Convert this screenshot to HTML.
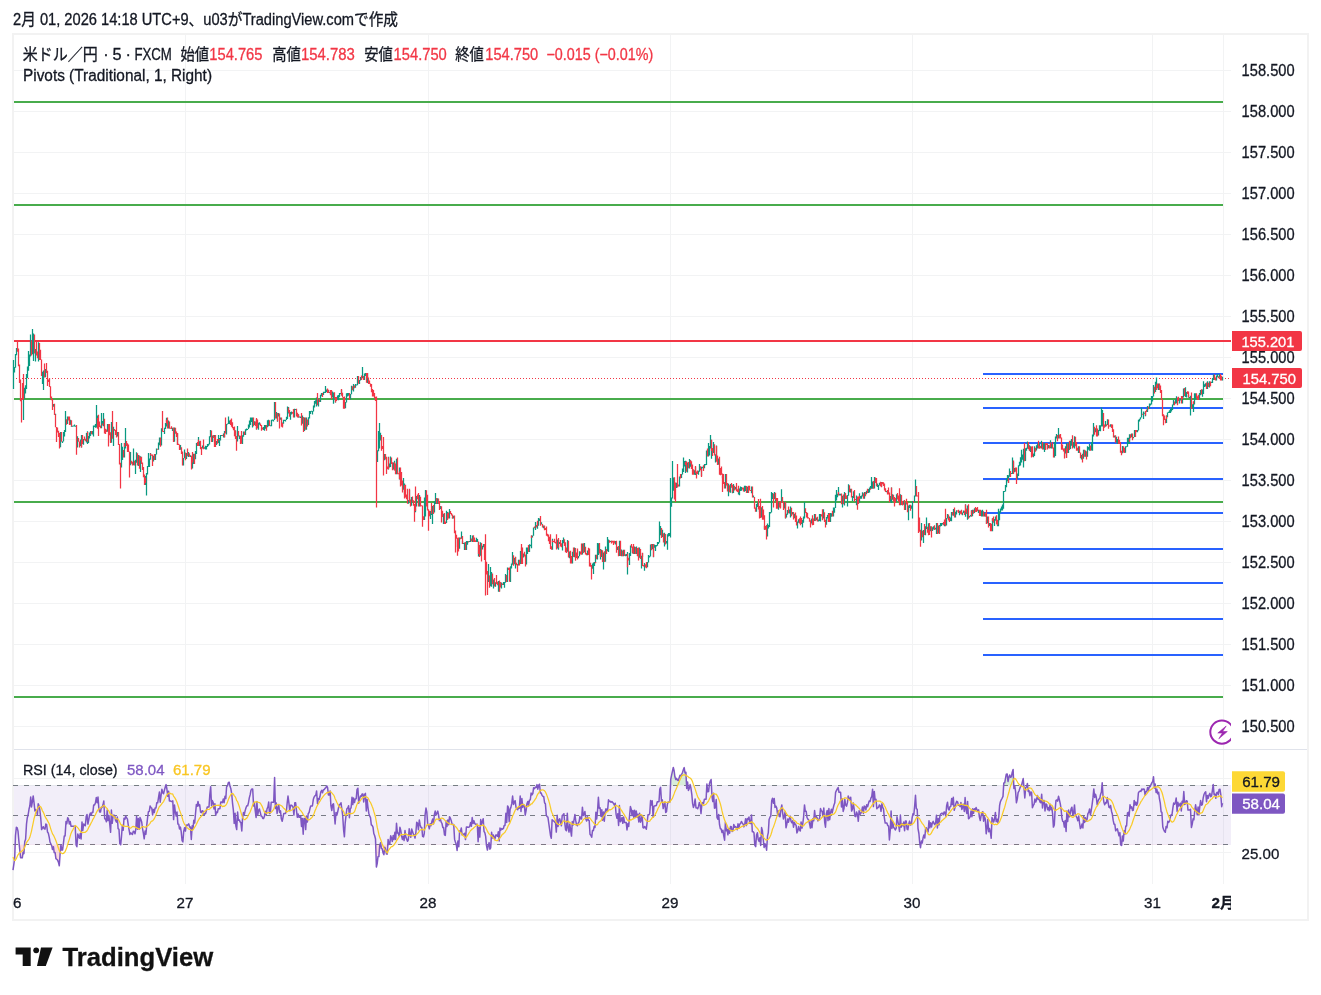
<!DOCTYPE html><html><head><meta charset="utf-8"><style>
html,body{margin:0;padding:0;background:#fff;width:1321px;height:995px;overflow:hidden}
svg{display:block}
text{font-family:"Liberation Sans", "Noto Sans CJK JP", sans-serif;stroke-width:0.3px;paint-order:stroke}
</style></head><body>
<svg width="1321" height="995" viewBox="0 0 1321 995">
<rect width="1321" height="995" fill="#fff"/>

<text x="13" y="25" font-size="16" fill="#131722" stroke="#131722" textLength="385" lengthAdjust="spacingAndGlyphs">2月 01, 2026 14:18 UTC+9、u03がTradingView.comで作成</text>
<rect x="13" y="34" width="1295" height="886" fill="none" stroke="#f2f2f2" stroke-width="2"/>
<line x1="14" x2="1231" y1="70.5" y2="70.5" stroke="#f2f3f4"/>
<line x1="14" x2="1231" y1="111.5" y2="111.5" stroke="#f2f3f4"/>
<line x1="14" x2="1231" y1="152.5" y2="152.5" stroke="#f2f3f4"/>
<line x1="14" x2="1231" y1="193.5" y2="193.5" stroke="#f2f3f4"/>
<line x1="14" x2="1231" y1="234.5" y2="234.5" stroke="#f2f3f4"/>
<line x1="14" x2="1231" y1="275.5" y2="275.5" stroke="#f2f3f4"/>
<line x1="14" x2="1231" y1="316.5" y2="316.5" stroke="#f2f3f4"/>
<line x1="14" x2="1231" y1="357.5" y2="357.5" stroke="#f2f3f4"/>
<line x1="14" x2="1231" y1="398.5" y2="398.5" stroke="#f2f3f4"/>
<line x1="14" x2="1231" y1="439.5" y2="439.5" stroke="#f2f3f4"/>
<line x1="14" x2="1231" y1="480.5" y2="480.5" stroke="#f2f3f4"/>
<line x1="14" x2="1231" y1="521.5" y2="521.5" stroke="#f2f3f4"/>
<line x1="14" x2="1231" y1="562.5" y2="562.5" stroke="#f2f3f4"/>
<line x1="14" x2="1231" y1="603.5" y2="603.5" stroke="#f2f3f4"/>
<line x1="14" x2="1231" y1="644.5" y2="644.5" stroke="#f2f3f4"/>
<line x1="14" x2="1231" y1="685.5" y2="685.5" stroke="#f2f3f4"/>
<line x1="14" x2="1231" y1="726.5" y2="726.5" stroke="#f2f3f4"/>
<line x1="185.5" x2="185.5" y1="35" y2="749" stroke="#f2f3f4"/>
<line x1="185.5" x2="185.5" y1="750" y2="884" stroke="#f2f3f4"/>
<line x1="428.5" x2="428.5" y1="35" y2="749" stroke="#f2f3f4"/>
<line x1="428.5" x2="428.5" y1="750" y2="884" stroke="#f2f3f4"/>
<line x1="670.5" x2="670.5" y1="35" y2="749" stroke="#f2f3f4"/>
<line x1="670.5" x2="670.5" y1="750" y2="884" stroke="#f2f3f4"/>
<line x1="912.5" x2="912.5" y1="35" y2="749" stroke="#f2f3f4"/>
<line x1="912.5" x2="912.5" y1="750" y2="884" stroke="#f2f3f4"/>
<line x1="1152.5" x2="1152.5" y1="35" y2="749" stroke="#f2f3f4"/>
<line x1="1152.5" x2="1152.5" y1="750" y2="884" stroke="#f2f3f4"/>
<line x1="1223.5" x2="1223.5" y1="35" y2="749" stroke="#f2f3f4"/>
<line x1="1223.5" x2="1223.5" y1="750" y2="884" stroke="#f2f3f4"/>
<line x1="14" x2="1231" y1="778.5" y2="778.5" stroke="#f2f3f4"/>
<line x1="14" x2="1231" y1="852.5" y2="852.5" stroke="#f2f3f4"/>
<line x1="14" x2="1307" y1="749.5" y2="749.5" stroke="#e0e3eb"/>
<text x="1294.6" y="75.8" font-size="16.2" fill="#131722" stroke="#131722" text-anchor="end" textLength="53" lengthAdjust="spacingAndGlyphs">158.500</text>
<text x="1294.6" y="116.8" font-size="16.2" fill="#131722" stroke="#131722" text-anchor="end" textLength="53" lengthAdjust="spacingAndGlyphs">158.000</text>
<text x="1294.6" y="157.8" font-size="16.2" fill="#131722" stroke="#131722" text-anchor="end" textLength="53" lengthAdjust="spacingAndGlyphs">157.500</text>
<text x="1294.6" y="198.8" font-size="16.2" fill="#131722" stroke="#131722" text-anchor="end" textLength="53" lengthAdjust="spacingAndGlyphs">157.000</text>
<text x="1294.6" y="239.8" font-size="16.2" fill="#131722" stroke="#131722" text-anchor="end" textLength="53" lengthAdjust="spacingAndGlyphs">156.500</text>
<text x="1294.6" y="280.8" font-size="16.2" fill="#131722" stroke="#131722" text-anchor="end" textLength="53" lengthAdjust="spacingAndGlyphs">156.000</text>
<text x="1294.6" y="321.8" font-size="16.2" fill="#131722" stroke="#131722" text-anchor="end" textLength="53" lengthAdjust="spacingAndGlyphs">155.500</text>
<text x="1294.6" y="362.8" font-size="16.2" fill="#131722" stroke="#131722" text-anchor="end" textLength="53" lengthAdjust="spacingAndGlyphs">155.000</text>
<text x="1294.6" y="403.8" font-size="16.2" fill="#131722" stroke="#131722" text-anchor="end" textLength="53" lengthAdjust="spacingAndGlyphs">154.500</text>
<text x="1294.6" y="444.8" font-size="16.2" fill="#131722" stroke="#131722" text-anchor="end" textLength="53" lengthAdjust="spacingAndGlyphs">154.000</text>
<text x="1294.6" y="485.8" font-size="16.2" fill="#131722" stroke="#131722" text-anchor="end" textLength="53" lengthAdjust="spacingAndGlyphs">153.500</text>
<text x="1294.6" y="526.8" font-size="16.2" fill="#131722" stroke="#131722" text-anchor="end" textLength="53" lengthAdjust="spacingAndGlyphs">153.000</text>
<text x="1294.6" y="567.8" font-size="16.2" fill="#131722" stroke="#131722" text-anchor="end" textLength="53" lengthAdjust="spacingAndGlyphs">152.500</text>
<text x="1294.6" y="608.8" font-size="16.2" fill="#131722" stroke="#131722" text-anchor="end" textLength="53" lengthAdjust="spacingAndGlyphs">152.000</text>
<text x="1294.6" y="649.8" font-size="16.2" fill="#131722" stroke="#131722" text-anchor="end" textLength="53" lengthAdjust="spacingAndGlyphs">151.500</text>
<text x="1294.6" y="690.8" font-size="16.2" fill="#131722" stroke="#131722" text-anchor="end" textLength="53" lengthAdjust="spacingAndGlyphs">151.000</text>
<text x="1294.6" y="731.8" font-size="16.2" fill="#131722" stroke="#131722" text-anchor="end" textLength="53" lengthAdjust="spacingAndGlyphs">150.500</text>
<line x1="14" x2="1223" y1="102" y2="102" stroke="#48ac4c" stroke-width="2"/>
<line x1="14" x2="1223" y1="205" y2="205" stroke="#48ac4c" stroke-width="2"/>
<line x1="14" x2="1223" y1="399" y2="399" stroke="#48ac4c" stroke-width="2"/>
<line x1="14" x2="1223" y1="502" y2="502" stroke="#48ac4c" stroke-width="2"/>
<line x1="14" x2="1223" y1="697" y2="697" stroke="#48ac4c" stroke-width="2"/>
<line x1="983" x2="1223" y1="374" y2="374" stroke="#2962ff" stroke-width="2"/>
<line x1="983" x2="1223" y1="408" y2="408" stroke="#2962ff" stroke-width="2"/>
<line x1="983" x2="1223" y1="443" y2="443" stroke="#2962ff" stroke-width="2"/>
<line x1="983" x2="1223" y1="479" y2="479" stroke="#2962ff" stroke-width="2"/>
<line x1="983" x2="1223" y1="513" y2="513" stroke="#2962ff" stroke-width="2"/>
<line x1="983" x2="1223" y1="549" y2="549" stroke="#2962ff" stroke-width="2"/>
<line x1="983" x2="1223" y1="583" y2="583" stroke="#2962ff" stroke-width="2"/>
<line x1="983" x2="1223" y1="619" y2="619" stroke="#2962ff" stroke-width="2"/>
<line x1="983" x2="1223" y1="655" y2="655" stroke="#2962ff" stroke-width="2"/>
<line x1="14" x2="1231" y1="341" y2="341" stroke="#f23645" stroke-width="2"/>
<line x1="13" x2="1231" y1="378.5" y2="378.5" stroke="#f23645" stroke-width="1" stroke-dasharray="1 2"/>
<path d="M13.5 372.8V375.2M13.5 360.0V389.0M14.5 367.1V372.5M15.5 354.0V367.7M16.5 348.0V355.3M23.5 394.3V420.0M24.5 387.7V398.8M25.5 385.3V393.6M26.5 374.0V389.1M27.5 366.5V378.0M28.5 364.4V370.8M28.5 351.0V367.7M29.5 354.6V366.0M30.5 334.5V356.4M32.5 329.0V354.2M33.5 333.5V361.0M35.5 349.0V361.6M38.5 342.2V361.6M42.5 371.7V384.0M43.5 370.5V390.0M45.5 369.0V377.3M53.5 404.0V406.7M55.5 413.8V415.0M60.5 437.4V447.3M60.5 432.0V440.6M62.5 441.2V443.0M63.5 432.0V441.6M64.5 430.0V436.6M65.5 411.0V432.0M65.5 420.1V432.0M67.5 416.5V423.9M70.5 419.8V424.7M71.5 425.7V426.7M72.5 425.7V426.7M73.5 425.5V426.5M74.5 424.4V426.5M75.5 425.7V426.7M77.5 436.2V447.5M80.5 439.4V446.0M81.5 435.0V447.5M83.5 439.1V444.8M86.5 433.1V442.5M87.5 431.3V444.0M88.5 435.9V443.0M89.5 432.4V438.5M90.5 431.0V436.1M92.5 431.0V434.6M92.5 430.9V431.9M93.5 425.4V436.4M94.5 425.4V426.9M95.5 423.9V427.8M96.5 405.0V427.5M97.5 415.4V425.4M101.5 413.0V428.2M102.5 420.9V424.0M103.5 413.0V426.2M107.5 424.0V431.8M108.5 427.0V431.7M111.5 421.9V442.8M113.5 426.8V438.6M113.5 428.8V446.0M117.5 432.1V436.4M121.5 443.0V467.6M122.5 446.7V460.1M124.5 443.0V457.5M125.5 428.0V448.4M130.5 452.0V465.2M133.5 448.6V465.2M135.5 459.8V474.0M136.5 452.3V462.8M138.5 455.0V466.0M140.5 456.3V472.0M145.5 476.1V485.0M146.5 473.0V495.6M147.5 466.1V474.6M148.5 453.0V467.0M149.5 458.6V467.0M150.5 453.0V459.7M153.5 455.8V461.6M155.5 454.0V460.0M155.5 454.2V455.2M156.5 448.5V454.4M158.5 442.6V449.7M159.5 437.5V445.2M161.5 437.5V445.6M161.5 428.2V437.9M164.5 427.8V434.0M165.5 423.0V428.9M166.5 417.8V426.4M168.5 420.6V428.5M171.5 428.0V429.0M172.5 427.8V430.9M174.5 427.5V441.8M177.5 433.3V445.0M180.5 445.0V449.8M183.5 457.9V465.6M184.5 449.6V458.2M186.5 453.1V459.0M187.5 454.1V456.0M188.5 452.0V457.0M190.5 455.3V457.0M192.5 457.2V468.4M193.5 453.8V464.0M195.5 451.1V459.2M196.5 443.0V454.0M198.5 437.0V446.0M199.5 441.3V446.0M202.5 445.6V448.5M204.5 447.2V448.8M205.5 445.8V449.6M206.5 446.0V449.6M207.5 444.0V446.9M208.5 443.7V444.7M208.5 444.0V445.7M209.5 436.3V444.4M210.5 430.0V437.3M212.5 435.5V442.0M214.5 435.0V441.3M216.5 441.1V444.9M218.5 435.0V443.1M219.5 438.0V446.0M220.5 435.0V440.4M221.5 435.0V436.0M223.5 433.4V437.4M224.5 430.9V437.3M226.5 424.1V434.6M227.5 423.5V424.5M228.5 416.4V424.0M229.5 420.6V424.0M235.5 430.5V436.3M237.5 426.0V441.6M239.5 435.5V438.9M242.5 435.2V444.0M243.5 431.6V436.8M245.5 429.3V435.0M245.5 429.6V433.3M246.5 428.6V430.4M247.5 429.0V430.1M248.5 424.5V429.0M249.5 420.5V427.5M250.5 417.5V425.0M251.5 418.0V422.0M251.5 417.5V420.5M252.5 417.5V427.5M254.5 421.3V425.0M256.5 418.9V429.6M258.5 422.7V429.7M259.5 422.3V424.8M263.5 426.9V429.9M264.5 425.0V430.8M265.5 425.0V428.7M267.5 423.8V427.2M267.5 420.3V424.6M268.5 419.8V426.3M270.5 425.2V426.3M271.5 419.7V426.3M272.5 419.7V420.8M272.5 419.6V420.6M273.5 419.7V421.4M274.5 402.1V420.1M276.5 412.0V418.6M277.5 413.0V421.8M278.5 413.0V416.6M280.5 417.5V419.8M282.5 422.5V426.3M283.5 419.7V423.8M284.5 419.7V421.1M285.5 419.7V421.6M286.5 416.7V420.1M287.5 406.4V419.0M288.5 406.9V413.4M290.5 412.0V419.7M291.5 411.6V414.6M294.5 408.7V417.5M295.5 408.9V409.9M298.5 414.2V417.5M299.5 416.6V417.6M300.5 416.5V418.0M302.5 415.6V423.7M304.5 419.2V431.1M304.5 417.5V421.8M306.5 417.5V429.7M308.5 417.3V424.9M309.5 416.6V418.6M309.5 411.1V418.6M310.5 411.0V413.9M311.5 410.8V411.8M312.5 411.0V414.6M313.5 405.5V411.4M314.5 403.7V407.5M314.5 401.0V404.9M315.5 400.3V403.7M316.5 397.6V406.4M318.5 399.3V406.4M320.5 396.9V402.0M320.5 394.7V400.1M321.5 393.0V396.2M323.5 391.7V395.1M324.5 391.7V393.0M325.5 386.0V392.9M325.5 389.1V393.0M326.5 389.4V391.9M329.5 392.1V393.1M330.5 390.3V394.2M332.5 391.6V397.4M333.5 392.4V403.7M335.5 397.1V402.4M337.5 395.6V399.6M338.5 394.9V400.2M339.5 393.0V397.2M340.5 393.0V394.0M341.5 389.7V395.6M345.5 402.0V408.3M346.5 396.6V402.5M346.5 393.2V401.0M347.5 393.0V396.4M348.5 393.0V395.8M350.5 393.9V399.5M351.5 391.4V394.2M351.5 385.8V394.0M353.5 384.0V391.6M355.5 384.1V387.7M356.5 384.5V385.5M357.5 376.2V385.3M357.5 376.0V379.0M359.5 380.1V384.0M360.5 376.9V380.6M362.5 373.5V378.3M362.5 367.0V377.8M364.5 373.5V380.0M365.5 373.0V375.9M367.5 373.0V383.0M377.5 450.3V462.0M378.5 431.0V451.2M378.5 445.2V446.3M379.5 423.0V448.4M380.5 432.7V440.4M384.5 454.0V460.3M388.5 456.7V469.4M389.5 463.6V467.5M390.5 456.6V467.1M393.5 462.6V469.5M394.5 460.7V470.3M396.5 458.7V474.3M399.5 467.6V479.6M403.5 478.0V489.8M404.5 483.6V494.6M408.5 500.0V503.8M409.5 490.0V502.2M411.5 496.9V505.7M415.5 505.5V512.3M416.5 496.1V506.4M419.5 495.1V506.4M424.5 497.5V520.1M425.5 497.5V516.5M425.5 490.0V500.8M430.5 511.0V518.9M431.5 509.1V515.0M432.5 506.0V524.0M434.5 501.4V512.6M435.5 493.0V504.0M436.5 501.7V504.0M437.5 498.3V504.0M440.5 506.1V509.1M443.5 513.7V524.0M446.5 510.8V523.0M447.5 512.1V518.5M449.5 509.0V518.5M452.5 517.3V518.5M453.5 515.7V518.5M457.5 539.3V546.9M459.5 537.6V548.8M461.5 531.5V538.8M462.5 541.0V544.0M463.5 542.9V543.9M464.5 542.6V550.0M466.5 541.0V549.9M467.5 541.0V544.8M468.5 541.2V542.2M469.5 541.0V542.0M470.5 535.0V542.0M472.5 535.4V542.0M473.5 537.7V541.9M476.5 537.8V542.0M477.5 538.9V542.0M478.5 542.0V556.5M480.5 542.2V555.7M482.5 545.7V549.6M483.5 544.0V547.3M488.5 564.0V581.9M489.5 575.7V577.9M490.5 567.0V586.2M491.5 571.9V586.7M493.5 579.6V588.5M495.5 582.3V586.8M498.5 581.1V591.8M499.5 582.0V591.4M501.5 582.4V588.5M503.5 582.0V584.9M504.5 582.0V587.7M505.5 581.8V582.8M505.5 574.1V582.4M507.5 567.5V582.0M510.5 570.3V582.0M510.5 566.3V570.3M511.5 563.5V568.6M512.5 552.0V564.8M514.5 558.0V564.2M515.5 556.8V568.6M518.5 559.7V565.6M520.5 550.9V564.0M521.5 547.6V564.0M523.5 553.5V557.6M526.5 557.8V564.4M526.5 547.6V560.3M527.5 547.6V554.0M529.5 544.3V552.0M530.5 544.7V546.2M531.5 535.4V548.2M532.5 535.5V537.4M533.5 527.5V535.8M535.5 522.0V529.9M537.5 522.3V528.8M538.5 518.0V525.8M539.5 518.4V521.1M541.5 522.2V524.4M543.5 525.4V528.3M552.5 538.8V549.8M557.5 539.4V548.6M558.5 541.5V549.8M559.5 541.9V544.0M562.5 540.0V550.4M563.5 540.1V542.6M563.5 537.6V543.3M567.5 539.9V551.8M569.5 551.4V558.2M572.5 551.8V563.6M574.5 551.8V557.2M574.5 547.6V553.2M578.5 555.9V558.3M579.5 554.5V556.3M579.5 551.2V556.3M582.5 543.6V554.5M584.5 549.1V552.2M584.5 543.0V550.7M587.5 550.5V555.2M592.5 563.6V568.8M593.5 562.5V574.0M594.5 562.0V566.0M595.5 554.7V563.1M597.5 543.0V559.6M598.5 543.3V555.0M600.5 549.1V559.6M601.5 549.8V556.9M603.5 552.5V569.6M605.5 546.4V561.7M605.5 547.7V554.8M607.5 537.0V551.2M608.5 539.5V552.0M610.5 541.0V542.1M611.5 540.8V542.6M615.5 541.0V544.5M617.5 546.7V550.0M619.5 540.8V555.9M621.5 552.9V555.2M621.5 549.4V556.3M623.5 549.7V556.3M625.5 554.2V556.3M626.5 554.0V555.9M627.5 552.0V574.5M629.5 553.1V565.0M630.5 545.4V555.9M632.5 547.8V553.5M634.5 546.5V554.0M636.5 546.5V554.0M637.5 549.7V556.2M639.5 547.5V557.7M641.5 555.7V568.5M642.5 553.0V556.9M644.5 563.1V570.7M647.5 562.0V567.3M648.5 556.3V562.4M648.5 555.1V557.4M649.5 555.7V557.4M650.5 544.4V556.4M652.5 544.0V549.3M653.5 546.4V557.3M654.5 544.4V547.8M655.5 545.1V551.0M656.5 545.0V546.5M657.5 542.0V545.8M658.5 542.0V543.9M658.5 541.9V542.9M659.5 521.5V542.4M660.5 526.1V535.3M662.5 529.8V537.1M664.5 536.2V546.4M664.5 532.8V539.7M666.5 541.0V543.5M667.5 534.3V549.7M668.5 533.0V536.6M669.5 533.0V535.9M669.5 533.2V535.8M670.5 478.0V537.5M671.5 497.5V506.7M672.5 461.0V498.6M673.5 477.4V490.8M676.5 482.8V488.1M679.5 480.2V486.4M679.5 476.6V483.6M681.5 474.0V477.9M682.5 468.5V474.4M683.5 457.6V472.1M684.5 461.1V466.5M685.5 460.7V473.0M687.5 462.6V472.6M689.5 459.0V468.4M690.5 460.3V466.7M694.5 470.3V474.7M695.5 466.7V475.1M698.5 470.8V474.7M699.5 464.0V471.8M701.5 466.8V476.1M702.5 466.7V468.3M704.5 464.0V468.3M705.5 464.0V465.2M706.5 464.0V465.1M706.5 450.5V464.4M708.5 443.0V456.5M709.5 446.1V455.4M710.5 435.0V448.4M711.5 439.7V458.7M713.5 442.0V453.1M715.5 454.3V462.6M716.5 445.6V455.0M718.5 458.6V464.8M722.5 475.8V478.3M725.5 474.0V488.6M727.5 483.0V486.5M728.5 483.7V496.3M730.5 484.1V492.7M732.5 490.6V493.2M733.5 484.1V493.1M735.5 486.9V489.4M738.5 487.7V494.6M739.5 488.5V495.2M740.5 486.6V490.9M741.5 487.0V490.8M744.5 485.8V491.7M745.5 485.8V491.1M747.5 486.7V493.0M748.5 486.2V489.4M751.5 486.4V493.3M753.5 495.5V497.4M756.5 503.9V511.8M757.5 502.3V507.0M759.5 508.9V512.1M761.5 507.2V517.5M764.5 525.8V529.7M767.5 523.5V536.4M768.5 525.1V528.6M769.5 515.2V527.1M769.5 512.0V519.1M770.5 512.0V513.4M771.5 492.0V512.4M772.5 493.0V498.9M774.5 492.0V499.1M775.5 497.7V501.1M778.5 502.3V509.8M780.5 501.0V507.6M781.5 489.3V501.8M784.5 502.0V508.6M785.5 502.0V518.6M786.5 513.7V517.5M787.5 509.9V514.7M789.5 509.4V513.6M790.5 506.4V517.5M792.5 512.0V514.5M794.5 513.7V518.3M797.5 521.6V528.6M798.5 519.2V522.7M801.5 518.3V524.1M802.5 520.0V527.5M803.5 516.4V522.7M804.5 502.0V518.6M806.5 512.0V513.7M811.5 518.8V523.5M812.5 518.0V524.9M814.5 514.0V521.1M816.5 517.4V520.2M818.5 519.4V521.4M819.5 514.0V521.0M820.5 514.0V521.4M823.5 509.3V518.6M826.5 517.1V524.8M827.5 515.0V518.6M828.5 513.0V522.0M830.5 513.0V522.0M831.5 513.3V516.7M833.5 511.1V516.4M833.5 507.5V512.8M834.5 507.5V512.7M835.5 494.8V507.9M836.5 490.0V500.5M837.5 493.7V497.2M838.5 487.0V494.4M839.5 493.7V495.4M840.5 493.8V495.4M842.5 495.8V507.5M844.5 497.6V505.4M844.5 492.0V502.4M847.5 495.1V506.4M848.5 484.3V495.8M850.5 488.8V492.4M852.5 495.9V501.0M853.5 491.2V497.9M856.5 495.6V505.3M859.5 493.2V502.5M860.5 496.1V498.7M861.5 495.5V498.7M862.5 492.2V496.5M864.5 492.0V498.7M866.5 490.8V494.3M868.5 488.9V493.0M869.5 487.6V492.5M870.5 486.1V489.0M871.5 477.0V488.8M872.5 481.4V488.8M874.5 477.1V488.4M875.5 481.1V482.5M877.5 483.5V486.9M878.5 485.0V490.0M879.5 482.8V485.6M881.5 482.1V486.9M886.5 491.1V492.1M886.5 491.2V492.2M890.5 496.1V501.9M891.5 487.6V503.0M892.5 494.3V499.7M896.5 494.3V501.8M896.5 494.3V501.5M900.5 494.3V505.3M902.5 502.2V505.3M903.5 500.8V504.8M905.5 502.7V509.9M908.5 505.6V520.3M909.5 504.8V508.0M911.5 505.6V508.8M912.5 501.0V518.6M912.5 501.0V505.6M914.5 495.5V502.1M915.5 479.4V496.5M921.5 523.0V540.4M923.5 531.8V543.0M923.5 530.0V533.1M925.5 526.2V535.2M926.5 517.5V529.0M928.5 523.3V532.2M930.5 526.3V531.2M932.5 527.3V531.1M933.5 526.3V529.5M935.5 527.7V529.6M936.5 523.0V534.0M938.5 525.5V533.6M939.5 525.1V533.1M940.5 523.0V526.5M941.5 523.0V525.9M942.5 523.0V524.6M944.5 522.1V526.3M946.5 518.0V525.5M947.5 513.9V518.6M949.5 516.5V520.3M950.5 517.5V521.0M951.5 512.0V521.2M953.5 509.1V515.7M955.5 515.0V517.5M955.5 511.8V517.5M956.5 510.2V514.4M959.5 510.8V515.3M960.5 510.7V513.2M962.5 512.6V515.3M963.5 510.4V513.1M965.5 504.2V516.8M967.5 505.4V519.7M969.5 515.9V517.5M970.5 515.0V516.4M971.5 510.3V516.4M972.5 509.8V516.2M974.5 508.2V513.0M976.5 509.0V512.0M978.5 509.8V512.9M981.5 511.6V516.4M981.5 510.4V514.6M982.5 509.8V516.4M984.5 512.5V516.4M986.5 520.3V524.0M987.5 516.4V523.2M989.5 522.9V526.0M992.5 518.3V531.3M994.5 519.0V526.0M995.5 516.4V520.7M997.5 520.2V526.3M998.5 508.7V526.3M999.5 511.2V520.3M1000.5 508.5V513.0M1001.5 506.4V510.5M1002.5 506.4V510.6M1002.5 504.5V508.6M1003.5 491.0V508.7M1004.5 491.0V492.0M1005.5 485.0V491.4M1006.5 478.2V487.3M1007.5 475.0V481.3M1008.5 475.3V483.0M1009.5 468.5V476.8M1011.5 473.0V474.1M1012.5 457.4V474.0M1013.5 461.7V468.6M1014.5 467.9V472.2M1017.5 473.4V479.0M1018.5 466.0V476.0M1018.5 465.2V467.7M1019.5 461.7V466.3M1020.5 457.3V465.5M1021.5 449.7V462.5M1022.5 454.6V459.8M1023.5 448.7V467.4M1025.5 448.2V461.0M1026.5 447.8V450.7M1027.5 441.4V448.8M1029.5 445.2V450.8M1030.5 446.3V451.9M1033.5 453.6V457.3M1034.5 450.2V455.9M1034.5 446.3V455.8M1036.5 445.3V450.4M1037.5 443.4V448.6M1039.5 443.0V448.5M1041.5 440.8V448.6M1043.5 443.3V449.5M1044.5 443.0V452.0M1045.5 443.0V449.6M1048.5 445.0V448.2M1050.5 440.3V448.3M1051.5 443.8V448.6M1054.5 442.0V457.4M1055.5 446.0V456.0M1055.5 436.5V448.6M1056.5 434.0V438.4M1058.5 428.0V438.6M1065.5 446.3V453.5M1066.5 443.1V457.7M1068.5 442.4V453.0M1070.5 440.8V449.1M1071.5 440.8V445.8M1071.5 439.0V441.6M1073.5 442.2V447.6M1074.5 436.3V448.6M1078.5 446.3V453.1M1081.5 455.0V459.6M1082.5 453.7V458.5M1083.5 449.7V458.7M1085.5 450.4V456.8M1087.5 451.9V456.8M1087.5 446.3V453.5M1088.5 447.0V449.7M1089.5 443.9V450.8M1091.5 442.0V450.4M1092.5 442.1V450.8M1092.5 434.5V442.4M1093.5 423.0V436.4M1095.5 428.3V432.2M1098.5 431.5V435.6M1098.5 429.9V432.8M1099.5 425.3V431.0M1100.5 425.3V431.3M1101.5 407.6V426.4M1102.5 410.1V426.4M1105.5 421.0V426.7M1107.5 419.3V425.1M1110.5 424.2V426.8M1114.5 435.5V437.4M1116.5 436.8V442.5M1117.5 439.1V444.0M1119.5 442.0V443.6M1122.5 446.1V453.2M1124.5 448.0V453.0M1125.5 446.3V452.7M1126.5 446.3V447.3M1127.5 437.7V446.7M1128.5 437.7V444.0M1129.5 434.2V444.0M1131.5 433.4V437.2M1133.5 437.0V438.2M1134.5 430.0V437.1M1135.5 430.4V433.8M1137.5 430.0V432.3M1138.5 419.7V430.4M1139.5 418.7V421.4M1140.5 417.2V419.4M1140.5 417.2V418.9M1141.5 407.4V417.6M1143.5 411.6V419.0M1144.5 412.7V413.7M1145.5 411.2V416.2M1147.5 406.0V412.0M1149.5 403.6V408.9M1150.5 403.6V405.5M1151.5 399.9V404.4M1151.5 396.0V404.0M1152.5 396.0V401.5M1153.5 385.0V396.4M1155.5 381.8V392.1M1156.5 377.5V390.0M1158.5 383.6V390.0M1166.5 415.5V423.0M1167.5 412.5V417.2M1168.5 411.8V413.0M1169.5 410.3V413.0M1170.5 408.9V413.0M1171.5 407.8V411.6M1172.5 407.8V410.0M1172.5 404.4V408.2M1173.5 400.0V405.3M1175.5 399.3V403.8M1176.5 396.3V403.2M1177.5 397.9V404.3M1179.5 399.4V403.6M1180.5 398.4V400.4M1182.5 396.0V403.6M1183.5 388.5V397.6M1185.5 387.3V396.9M1186.5 392.1V397.6M1188.5 394.8V397.6M1189.5 396.9V397.9M1190.5 395.8V415.5M1192.5 404.2V408.2M1193.5 401.8V412.0M1194.5 393.3V404.4M1195.5 393.3V399.6M1198.5 395.0V400.0M1199.5 392.9V400.0M1200.5 390.0V395.3M1202.5 389.4V396.7M1203.5 385.2V393.9M1203.5 381.3V388.4M1204.5 384.2V387.0M1205.5 383.2V386.5M1207.5 381.3V389.0M1209.5 381.3V387.4M1209.5 381.5V384.4M1211.5 381.7V383.0M1212.5 377.9V383.0M1213.5 374.5V380.0M1214.5 377.2V379.7M1216.5 375.5V380.5M1217.5 374.0V377.3M1219.5 374.0V377.7M1219.5 374.0V376.1M1222.5 376.7V380.5" stroke="#089981" stroke-width="1.25" fill="none"/><path d="M17.5 342.0V351.8M18.5 348.5V353.0M18.5 352.5V366.2M19.5 364.6V383.0M20.5 379.4V401.2M21.5 398.3V422.5M22.5 383.0V399.9M23.5 374.0V399.2M31.5 340.6V355.5M34.5 335.5V345.2M34.5 334.5V353.6M36.5 341.7V355.4M37.5 351.6V358.3M39.5 343.1V346.9M39.5 345.0V360.0M40.5 349.7V360.0M41.5 359.6V376.0M44.5 369.9V374.9M44.5 363.4V377.5M46.5 363.0V373.0M47.5 370.8V386.0M48.5 379.4V382.1M49.5 378.0V387.1M50.5 386.2V398.0M50.5 393.3V397.2M51.5 396.6V400.2M52.5 399.0V410.0M54.5 403.7V415.0M55.5 414.6V427.3M56.5 427.1V442.0M57.5 427.4V432.5M58.5 430.7V436.9M59.5 433.0V448.6M61.5 432.0V441.8M66.5 419.3V424.8M68.5 416.5V420.5M69.5 416.5V425.0M71.5 420.2V426.5M76.5 425.0V444.0M76.5 443.5V454.7M78.5 438.1V441.7M79.5 441.6V447.5M81.5 439.9V447.5M82.5 435.0V444.0M84.5 436.4V440.3M85.5 438.7V441.2M87.5 432.1V441.8M91.5 431.0V434.2M97.5 418.1V428.7M98.5 414.7V436.0M99.5 421.4V427.1M100.5 425.5V428.3M102.5 423.5V425.4M104.5 418.8V433.4M105.5 428.7V434.0M106.5 429.6V432.1M108.5 424.0V446.4M109.5 424.0V435.3M110.5 432.3V443.1M112.5 411.0V438.8M114.5 428.9V430.8M115.5 429.9V435.1M116.5 422.0V437.5M118.5 432.1V445.0M118.5 442.0V445.0M119.5 443.9V464.6M120.5 462.8V488.4M123.5 450.1V457.5M124.5 443.0V446.9M126.5 440.9V446.0M127.5 443.3V452.0M128.5 444.6V452.0M129.5 451.6V477.4M129.5 457.5V467.6M131.5 460.7V463.7M132.5 461.7V465.5M134.5 461.9V462.9M134.5 460.8V465.6M137.5 453.3V465.6M139.5 455.4V468.7M140.5 457.4V460.4M141.5 456.7V464.0M142.5 462.4V469.9M143.5 467.0V477.3M144.5 474.5V485.0M145.5 477.7V482.9M150.5 453.4V455.2M151.5 454.6V455.8M152.5 454.5V466.0M154.5 454.0V460.0M157.5 448.7V449.7M160.5 437.5V446.7M162.5 411.0V431.7M163.5 431.0V432.1M166.5 420.0V423.6M167.5 417.6V428.4M169.5 421.6V428.7M170.5 427.8V428.8M171.5 426.3V428.7M173.5 427.5V441.9M175.5 427.8V433.7M176.5 431.6V436.9M177.5 433.0V445.0M178.5 443.7V445.0M179.5 444.6V450.0M181.5 447.3V454.0M182.5 451.6V463.4M182.5 460.5V465.6M185.5 452.6V460.3M187.5 448.5V456.2M189.5 453.3V456.7M191.5 455.8V469.5M192.5 452.0V462.4M194.5 453.8V464.0M197.5 441.9V446.0M198.5 439.7V446.0M200.5 440.8V449.2M201.5 447.1V455.0M203.5 439.6V447.2M203.5 444.6V449.3M211.5 430.6V442.0M213.5 435.0V437.9M214.5 436.7V447.0M215.5 435.0V447.0M217.5 439.0V443.7M219.5 439.0V440.2M222.5 434.9V435.9M224.5 432.9V437.4M225.5 417.5V433.6M230.5 419.7V423.9M230.5 421.8V425.0M231.5 418.6V426.7M232.5 422.3V428.2M233.5 427.1V430.2M234.5 426.4V436.3M235.5 430.4V438.9M236.5 436.1V450.7M238.5 431.0V436.6M240.5 435.8V444.0M240.5 435.7V441.8M241.5 431.0V443.7M244.5 431.6V435.0M253.5 417.5V426.3M255.5 421.4V426.0M256.5 418.0V429.5M257.5 419.4V428.2M260.5 423.6V425.9M261.5 425.0V429.3M261.5 427.3V430.8M262.5 427.4V429.4M266.5 425.0V430.8M269.5 420.3V425.9M275.5 402.0V418.6M277.5 413.0V421.2M279.5 413.6V428.6M281.5 417.6V426.8M282.5 423.1V427.5M288.5 407.6V412.4M289.5 409.9V416.8M292.5 411.9V413.7M293.5 411.5V413.3M293.5 409.1V417.4M296.5 408.7V416.6M297.5 412.7V417.5M298.5 414.4V417.5M301.5 413.0V425.4M303.5 417.1V432.0M305.5 417.5V429.7M307.5 419.5V426.5M317.5 393.0V405.2M319.5 399.1V402.0M322.5 393.0V396.9M327.5 388.6V393.0M328.5 389.8V393.0M330.5 390.0V395.3M331.5 390.0V399.2M334.5 392.2V398.2M335.5 397.0V402.6M336.5 397.1V401.0M341.5 389.0V395.4M342.5 392.8V397.6M343.5 397.0V408.7M344.5 396.5V408.7M349.5 393.0V400.0M352.5 386.2V390.2M354.5 385.3V388.2M358.5 376.0V383.8M361.5 375.5V379.9M363.5 375.9V380.0M366.5 373.0V382.8M367.5 373.0V378.3M368.5 377.6V384.0M369.5 380.6V384.0M370.5 383.6V386.8M371.5 384.0V392.2M372.5 389.7V392.3M372.5 389.1V396.5M373.5 390.0V396.5M374.5 393.0V398.2M375.5 396.7V401.0M376.5 396.5V507.5M381.5 434.9V450.7M382.5 445.9V448.9M383.5 445.3V456.7M383.5 437.0V475.4M385.5 454.0V459.6M386.5 456.8V474.0M387.5 466.6V469.3M388.5 457.2V469.2M391.5 457.6V464.0M392.5 462.2V470.3M394.5 462.3V470.4M395.5 463.5V474.3M397.5 457.6V474.3M398.5 473.2V474.3M399.5 471.6V479.3M400.5 467.6V486.4M401.5 472.0V485.6M402.5 480.5V492.6M404.5 485.2V498.6M405.5 484.7V497.5M406.5 494.4V499.3M407.5 488.7V503.7M409.5 488.7V501.8M410.5 499.4V506.4M412.5 496.4V502.3M413.5 500.2V505.7M414.5 504.0V521.8M415.5 486.4V510.9M417.5 494.4V499.3M418.5 493.0V506.4M420.5 496.7V506.4M420.5 501.8V506.4M421.5 505.3V506.3M422.5 505.5V526.8M423.5 516.2V520.0M426.5 490.2V506.4M427.5 494.7V510.5M428.5 509.3V530.7M429.5 510.7V516.2M431.5 503.0V513.7M433.5 505.0V514.0M436.5 498.1V503.7M438.5 498.6V504.0M439.5 501.0V510.1M441.5 506.3V522.4M441.5 509.8V515.4M442.5 510.8V517.1M444.5 513.1V524.0M445.5 521.4V524.0M447.5 513.2V520.0M448.5 512.5V518.5M450.5 510.9V513.9M451.5 513.0V515.5M452.5 514.4V518.5M454.5 515.5V533.3M455.5 530.4V552.5M456.5 534.8V538.7M457.5 537.8V555.8M458.5 537.6V551.5M460.5 537.6V539.2M462.5 535.9V544.0M465.5 541.9V550.0M468.5 541.2V542.2M471.5 538.5V541.6M473.5 535.2V542.0M474.5 537.4V542.0M475.5 540.2V542.0M478.5 541.6V554.1M479.5 545.0V556.9M481.5 542.9V561.4M484.5 544.0V557.0M484.5 554.3V560.0M485.5 534.3V595.6M486.5 561.7V574.4M487.5 571.1V595.0M489.5 575.5V587.7M492.5 573.5V584.3M494.5 577.9V584.2M494.5 581.5V586.4M496.5 575.0V584.0M497.5 581.8V585.2M499.5 580.5V591.8M500.5 582.0V587.5M502.5 583.6V584.9M506.5 574.9V582.0M508.5 567.8V569.9M509.5 567.5V581.7M513.5 555.2V565.7M515.5 557.0V563.8M516.5 562.8V565.2M517.5 564.1V572.0M519.5 559.7V565.5M521.5 544.0V564.0M522.5 547.4V564.0M524.5 551.7V556.5M525.5 554.5V566.4M528.5 545.0V552.0M531.5 535.4V537.9M534.5 526.5V528.3M536.5 524.9V527.4M537.5 520.7V525.7M540.5 516.0V525.8M542.5 523.9V527.6M542.5 525.3V526.3M544.5 525.4V530.2M545.5 528.0V530.0M546.5 526.6V535.7M547.5 533.7V536.5M547.5 535.6V536.6M548.5 534.4V541.2M549.5 536.8V544.0M550.5 534.3V549.0M551.5 546.2V549.8M552.5 540.5V542.2M553.5 540.9V542.1M554.5 538.7V542.7M555.5 541.7V543.4M556.5 534.3V549.5M558.5 537.9V547.7M560.5 540.1V546.4M561.5 543.2V547.2M564.5 539.2V546.1M565.5 542.2V552.2M566.5 547.5V553.0M568.5 540.7V552.6M568.5 551.6V557.6M570.5 550.7V563.6M571.5 556.1V563.6M573.5 547.6V556.9M575.5 548.0V560.7M576.5 552.6V557.9M577.5 548.6V559.4M580.5 551.5V554.5M581.5 543.6V554.7M583.5 543.2V552.9M585.5 546.8V554.5M586.5 553.0V555.2M588.5 547.8V555.1M589.5 554.1V555.2M589.5 548.6V566.4M590.5 562.7V566.7M591.5 565.1V579.5M595.5 562.0V563.2M596.5 554.8V559.2M599.5 543.0V553.4M600.5 549.8V557.1M602.5 550.3V561.9M604.5 551.3V562.0M606.5 549.0V554.1M609.5 540.2V542.8M611.5 540.8V543.4M612.5 540.8V542.5M613.5 540.8V545.0M614.5 540.8V543.5M616.5 540.8V548.2M616.5 546.6V552.7M618.5 546.0V556.3M620.5 540.8V556.0M622.5 550.6V556.2M624.5 549.8V555.9M627.5 553.7V567.2M628.5 557.7V560.6M631.5 544.0V547.8M632.5 546.4V552.8M633.5 544.0V554.0M635.5 546.9V554.0M637.5 548.0V556.0M638.5 547.5V560.6M640.5 549.0V559.1M642.5 552.7V566.0M643.5 565.0V566.4M645.5 564.2V567.6M646.5 562.0V568.2M651.5 544.0V550.3M653.5 544.0V557.0M661.5 528.1V538.0M663.5 533.3V542.6M665.5 534.1V544.5M674.5 477.3V499.6M674.5 480.5V484.7M675.5 482.4V502.0M677.5 464.0V487.4M678.5 484.5V486.4M680.5 474.0V478.4M685.5 461.9V464.9M686.5 461.2V471.7M688.5 462.1V468.3M690.5 460.2V463.5M691.5 461.3V468.9M692.5 464.4V474.7M693.5 469.2V474.7M695.5 466.1V473.3M696.5 471.5V478.6M697.5 470.6V473.9M700.5 466.3V470.3M701.5 468.9V476.9M703.5 465.2V471.0M707.5 448.5V456.5M711.5 439.8V451.0M712.5 448.0V456.1M714.5 444.2V455.6M716.5 446.1V461.8M717.5 455.4V464.9M719.5 456.8V474.7M720.5 468.1V475.2M721.5 466.4V474.7M722.5 473.5V491.9M723.5 474.0V483.9M724.5 481.9V488.6M726.5 474.1V485.6M727.5 483.0V491.5M729.5 485.3V492.3M731.5 483.0V487.7M732.5 484.8V492.4M734.5 485.7V490.4M736.5 483.0V491.2M737.5 489.3V492.1M738.5 485.7V492.4M742.5 487.5V489.4M743.5 488.1V489.5M743.5 487.4V491.5M746.5 485.9V493.0M748.5 485.8V493.0M749.5 485.8V490.6M750.5 490.0V491.1M752.5 486.4V497.4M754.5 497.0V498.0M754.5 497.4V508.8M755.5 507.5V511.8M758.5 499.0V509.6M759.5 506.1V518.4M760.5 498.7V518.0M762.5 505.9V519.7M763.5 509.4V519.7M764.5 515.3V529.5M765.5 526.0V529.7M766.5 525.0V539.6M773.5 493.5V507.5M775.5 492.8V500.1M776.5 498.1V508.7M777.5 498.1V508.7M779.5 502.0V507.4M780.5 501.0V508.6M782.5 496.9V503.0M783.5 502.1V509.9M785.5 502.0V518.2M788.5 506.4V513.3M791.5 507.8V516.2M791.5 512.0V514.9M793.5 512.0V519.4M795.5 512.4V522.0M796.5 515.6V518.2M796.5 516.4V525.5M799.5 518.2V523.4M800.5 516.4V525.3M801.5 517.9V523.2M805.5 508.3V513.0M806.5 512.0V517.6M807.5 512.9V518.6M808.5 517.3V518.6M809.5 518.0V521.8M810.5 520.3V527.5M812.5 515.3V525.2M813.5 518.6V525.0M815.5 514.0V520.9M817.5 516.7V521.4M817.5 517.0V521.4M821.5 514.2V516.6M822.5 513.9V515.9M822.5 509.2V520.3M824.5 512.2V522.0M825.5 519.7V527.5M828.5 513.9V522.0M829.5 513.0V522.0M832.5 510.8V516.4M838.5 492.0V495.4M841.5 493.5V504.3M843.5 494.6V504.3M845.5 492.9V498.9M846.5 495.6V499.0M849.5 485.3V492.2M849.5 489.4V492.0M851.5 488.8V497.6M854.5 490.5V494.7M854.5 490.0V501.5M855.5 499.1V500.1M857.5 496.5V509.8M858.5 496.5V503.9M859.5 495.8V498.7M863.5 493.3V498.7M865.5 492.3V493.5M865.5 492.0V496.2M867.5 488.8V493.0M870.5 488.5V489.7M873.5 481.0V488.8M875.5 477.4V482.9M876.5 478.0V486.3M880.5 481.8V486.3M881.5 482.5V487.2M882.5 482.0V484.3M883.5 482.2V485.9M884.5 483.4V490.5M885.5 488.2V492.0M887.5 490.1V494.5M888.5 487.6V494.4M889.5 492.6V502.3M891.5 487.6V499.5M893.5 494.8V501.4M894.5 497.1V506.4M895.5 498.1V503.0M897.5 493.1V499.5M898.5 495.6V501.4M899.5 488.2V505.3M901.5 495.0V505.1M902.5 501.1V505.3M904.5 500.0V510.1M906.5 498.7V504.6M907.5 501.7V510.7M907.5 509.0V512.2M910.5 504.7V510.7M913.5 501.1V502.5M916.5 486.0V496.5M917.5 495.6V496.6M918.5 492.0V513.0M918.5 511.5V533.0M919.5 517.6V531.7M920.5 529.7V546.8M922.5 530.7V537.2M924.5 524.0V535.0M927.5 526.8V532.8M928.5 530.0V535.2M929.5 523.0V534.9M931.5 526.3V537.4M934.5 526.3V528.9M934.5 525.3V530.0M937.5 523.1V534.0M939.5 525.8V534.0M943.5 521.9V525.3M944.5 519.4V524.3M945.5 508.7V526.2M948.5 514.6V520.5M949.5 518.1V522.0M952.5 512.0V515.6M954.5 507.5V517.5M957.5 510.6V511.6M958.5 509.8V513.0M960.5 511.2V513.7M961.5 509.8V514.4M964.5 510.8V515.1M965.5 504.5V512.1M966.5 508.6V513.9M968.5 504.2V518.8M971.5 510.6V516.4M973.5 509.8V513.8M975.5 507.0V512.0M976.5 508.1V512.0M977.5 507.0V511.0M979.5 509.8V515.9M980.5 509.8V516.0M983.5 511.3V516.4M985.5 512.9V516.7M986.5 509.8V524.0M988.5 516.4V527.6M990.5 523.0V531.3M991.5 523.8V531.3M992.5 518.5V521.1M993.5 516.4V522.8M996.5 515.3V524.2M997.5 519.8V525.3M1008.5 478.2V483.0M1010.5 470.9V476.9M1013.5 460.6V474.0M1015.5 467.5V471.7M1016.5 467.6V484.0M1024.5 449.6V457.5M1024.5 443.0V461.2M1028.5 442.0V449.2M1029.5 446.5V450.8M1031.5 446.5V457.4M1032.5 446.3V456.8M1035.5 447.7V451.8M1038.5 440.8V448.6M1039.5 445.7V448.6M1040.5 445.9V448.3M1042.5 441.9V449.6M1045.5 443.3V449.9M1046.5 443.0V444.9M1047.5 443.2V449.4M1049.5 445.2V448.6M1050.5 442.6V447.2M1052.5 442.1V448.6M1053.5 447.5V457.4M1057.5 434.9V441.2M1059.5 434.4V438.6M1060.5 434.0V438.6M1061.5 437.5V441.5M1061.5 440.0V449.7M1062.5 444.5V449.7M1063.5 448.5V451.6M1064.5 448.3V458.5M1066.5 448.4V458.1M1067.5 443.8V453.0M1069.5 440.8V450.1M1072.5 435.3V448.6M1075.5 436.7V446.2M1076.5 442.0V449.5M1076.5 445.4V450.8M1077.5 447.7V450.8M1079.5 446.3V453.0M1080.5 452.4V458.3M1082.5 454.6V462.4M1084.5 449.7V456.8M1086.5 451.3V459.6M1090.5 445.4V450.8M1094.5 426.7V434.7M1096.5 425.3V436.4M1097.5 428.5V436.4M1103.5 413.1V423.5M1103.5 421.0V431.0M1104.5 424.6V427.8M1106.5 424.3V426.2M1108.5 419.4V423.6M1108.5 421.1V428.7M1109.5 425.4V426.6M1111.5 424.2V427.9M1112.5 424.5V432.0M1113.5 429.2V437.5M1113.5 433.2V437.6M1115.5 435.3V442.7M1118.5 436.5V444.0M1119.5 439.8V444.0M1120.5 442.0V452.7M1121.5 450.7V455.2M1123.5 446.3V452.4M1124.5 447.8V453.0M1129.5 438.8V441.8M1130.5 434.2V438.2M1132.5 433.4V440.3M1135.5 430.0V436.9M1136.5 430.0V432.1M1142.5 413.8V414.8M1145.5 411.2V415.5M1146.5 409.5V412.0M1148.5 406.5V409.2M1154.5 386.8V393.5M1156.5 384.4V390.0M1157.5 383.4V388.2M1159.5 383.4V390.0M1160.5 385.6V392.9M1161.5 389.9V400.0M1161.5 398.8V400.0M1162.5 399.6V416.2M1163.5 414.2V425.3M1164.5 415.6V420.0M1165.5 418.8V423.2M1166.5 415.5V418.9M1174.5 401.4V405.3M1177.5 397.5V405.2M1178.5 396.7V401.0M1181.5 396.0V403.6M1182.5 396.2V398.9M1184.5 388.0V395.9M1187.5 391.3V394.1M1188.5 391.4V397.6M1191.5 392.5V408.9M1193.5 401.3V404.1M1196.5 393.3V397.9M1197.5 396.3V400.0M1198.5 394.7V400.0M1201.5 389.3V394.5M1206.5 382.4V389.0M1208.5 382.7V387.0M1210.5 381.4V386.2M1214.5 374.5V379.7M1215.5 377.6V380.5M1218.5 376.2V378.2M1220.5 374.0V380.5M1221.5 375.7V380.5" stroke="#f23645" stroke-width="1.25" fill="none"/>
<path d="M1232 331 H1300 a2 2 0 0 1 2 2 V349 a2 2 0 0 1 -2 2 H1232 Z" fill="#f23645"/>
<text x="1294.4" y="346.8" font-size="15.2" fill="#fff" stroke="#fff" text-anchor="end" textLength="53" lengthAdjust="spacingAndGlyphs">155.201</text>
<path d="M1232 368 H1300 a2 2 0 0 1 2 2 V386 a2 2 0 0 1 -2 2 H1232 Z" fill="#f23645"/>
<text x="1296" y="383.8" font-size="15.2" fill="#fff" stroke="#fff" text-anchor="end" textLength="53.5" lengthAdjust="spacingAndGlyphs">154.750</text>
<text y="59.8" font-size="16.3" fill="#131722" stroke="#131722" lengthAdjust="spacingAndGlyphs"><tspan x="22.8" textLength="75" lengthAdjust="spacingAndGlyphs">米ドル／円</tspan><tspan x="103.3">·</tspan><tspan x="112.5">5</tspan><tspan x="125.5">·</tspan><tspan x="134.4" textLength="37.5" lengthAdjust="spacingAndGlyphs">FXCM</tspan><tspan x="180.4" textLength="28.6" lengthAdjust="spacingAndGlyphs">始値</tspan><tspan x="209.3" fill="#f23645" stroke="#f23645" textLength="53.2" lengthAdjust="spacingAndGlyphs">154.765</tspan><tspan x="272.3" textLength="28.6" lengthAdjust="spacingAndGlyphs">高値</tspan><tspan x="301" fill="#f23645" stroke="#f23645" textLength="53.8" lengthAdjust="spacingAndGlyphs">154.783</tspan><tspan x="364.3" textLength="28.6" lengthAdjust="spacingAndGlyphs">安値</tspan><tspan x="393.6" fill="#f23645" stroke="#f23645" textLength="53.2" lengthAdjust="spacingAndGlyphs">154.750</tspan><tspan x="455.2" textLength="28.6" lengthAdjust="spacingAndGlyphs">終値</tspan><tspan x="485.3" fill="#f23645" stroke="#f23645" textLength="52.9" lengthAdjust="spacingAndGlyphs">154.750</tspan><tspan x="546.5" fill="#f23645" stroke="#f23645" textLength="106.7" lengthAdjust="spacingAndGlyphs">−0.015 (−0.01%)</tspan></text>
<text x="23" y="80.5" font-size="16" fill="#131722" stroke="#131722" textLength="189" lengthAdjust="spacingAndGlyphs">Pivots (Traditional, 1, Right)</text>
<svg x="14" y="35" width="1217" height="714" overflow="hidden"><g transform="translate(-14,-35)"><circle cx="1221.9" cy="732.1" r="11.6" fill="#fff" stroke="#9c27b0" stroke-width="2"/><path d="M1226.2 726 L1217.8 733 L1222.4 733 L1218.8 738.8 L1227.3 731.5 L1222.6 731.5 Z" fill="#9c27b0" stroke="#9c27b0" stroke-width="0.6" stroke-linejoin="round"/></g></svg>
<rect x="14" y="785" width="1217" height="60" fill="#7e57c2" fill-opacity="0.1"/>
<line x1="13" x2="1231" y1="785.5" y2="785.5" stroke="#787b86" stroke-dasharray="5 6"/>
<line x1="13" x2="1231" y1="815.5" y2="815.5" stroke="#787b86" stroke-dasharray="5 6"/>
<line x1="13" x2="1231" y1="844.5" y2="844.5" stroke="#787b86" stroke-dasharray="5 6"/>
<defs><clipPath id="cob"><rect x="14" y="750" width="1217" height="35.5"/></clipPath><clipPath id="cos"><rect x="14" y="844.5" width="1217" height="40"/></clipPath></defs><path d="M13.0,870.2 L13.8,864.6 L14.7,858.1 L15.5,835.5 L16.4,827.2 L17.2,827.9 L18.0,831.1 L18.9,841.2 L19.7,849.5 L20.6,857.7 L21.4,857.8 L22.3,857.8 L23.1,852.2 L23.9,853.7 L24.8,841.4 L25.6,839.3 L26.5,824.1 L27.3,817.7 L28.1,815.0 L29.0,809.3 L29.8,806.0 L30.7,797.1 L31.5,806.9 L32.3,802.2 L33.2,795.9 L34.0,802.4 L34.9,810.9 L35.7,809.6 L36.6,811.1 L37.4,815.2 L38.2,803.7 L39.1,805.9 L39.9,810.5 L40.8,818.7 L41.6,829.6 L42.4,828.0 L43.3,826.7 L44.1,828.7 L45.0,829.2 L45.8,824.1 L46.6,824.5 L47.5,832.0 L48.3,833.2 L49.2,837.2 L50.0,842.0 L50.8,843.7 L51.7,845.7 L52.5,849.6 L53.4,846.7 L54.2,852.6 L55.1,852.6 L55.9,858.6 L56.7,859.3 L57.6,860.1 L58.4,862.1 L59.3,865.7 L60.1,853.9 L60.9,845.0 L61.8,850.0 L62.6,849.9 L63.5,842.7 L64.3,835.9 L65.1,835.9 L66.0,821.6 L66.8,823.7 L67.7,817.7 L68.5,819.1 L69.4,824.1 L70.2,821.5 L71.0,826.2 L71.9,826.2 L72.7,826.2 L73.6,826.2 L74.4,826.2 L75.2,826.2 L76.1,844.9 L76.9,846.8 L77.8,833.9 L78.6,836.4 L79.4,838.3 L80.3,833.4 L81.1,838.9 L82.0,822.0 L82.8,830.3 L83.7,824.0 L84.5,825.1 L85.3,825.8 L86.2,816.6 L87.0,814.4 L87.9,824.1 L88.7,820.2 L89.5,815.3 L90.4,812.9 L91.2,815.3 L92.1,812.3 L92.9,812.3 L93.7,804.9 L94.6,804.9 L95.4,803.0 L96.3,797.5 L97.1,802.7 L98.0,797.1 L98.8,807.6 L99.6,811.9 L100.5,812.0 L101.3,807.3 L102.2,807.4 L103.0,804.8 L103.8,801.0 L104.7,818.7 L105.5,819.0 L106.4,821.7 L107.2,809.9 L108.0,820.6 L108.9,815.4 L109.7,823.6 L110.6,832.3 L111.4,810.0 L112.2,823.3 L113.1,815.6 L113.9,815.1 L114.8,815.8 L115.6,820.5 L116.5,822.2 L117.3,817.0 L118.1,828.7 L119.0,829.4 L119.8,843.6 L120.7,844.8 L121.5,836.4 L122.3,825.7 L123.2,830.3 L124.0,818.3 L124.9,819.3 L125.7,816.1 L126.5,817.8 L127.4,818.9 L128.2,824.6 L129.1,829.8 L129.9,834.5 L130.8,832.9 L131.6,833.7 L132.4,834.5 L133.3,831.2 L134.1,831.4 L135.0,833.8 L135.8,829.2 L136.6,816.2 L137.5,829.2 L138.3,818.5 L139.2,829.2 L140.0,817.5 L140.8,819.3 L141.7,822.0 L142.5,828.4 L143.4,833.3 L144.2,838.8 L145.1,831.0 L145.9,834.2 L146.7,825.6 L147.6,817.6 L148.4,811.8 L149.3,811.4 L150.1,805.9 L150.9,807.6 L151.8,808.1 L152.6,815.0 L153.5,809.4 L154.3,812.6 L155.1,808.0 L156.0,808.0 L156.8,802.7 L157.7,802.8 L158.5,797.7 L159.4,792.0 L160.2,802.2 L161.0,796.0 L161.9,789.2 L162.7,792.7 L163.6,793.7 L164.4,790.2 L165.2,787.2 L166.1,784.6 L166.9,789.0 L167.8,796.3 L168.6,791.2 L169.4,800.9 L170.3,800.9 L171.1,801.4 L172.0,801.4 L172.8,800.9 L173.6,819.6 L174.5,805.0 L175.3,811.8 L176.2,816.0 L177.0,812.0 L177.9,824.1 L178.7,824.2 L179.5,828.9 L180.4,827.1 L181.2,831.6 L182.1,840.6 L182.9,842.0 L183.7,831.5 L184.6,827.7 L185.4,831.1 L186.3,825.0 L187.1,825.6 L187.9,824.7 L188.8,823.9 L189.6,827.1 L190.5,827.1 L191.3,839.5 L192.2,825.8 L193.0,828.9 L193.8,820.3 L194.7,823.0 L195.5,813.7 L196.4,804.4 L197.2,806.3 L198.0,801.4 L198.9,805.9 L199.7,804.9 L200.6,812.2 L201.4,812.7 L202.2,810.8 L203.1,811.2 L203.9,814.6 L204.8,813.9 L205.6,813.5 L206.5,810.3 L207.3,807.0 L208.1,807.0 L209.0,807.0 L209.8,794.8 L210.7,786.7 L211.5,805.8 L212.3,800.6 L213.2,802.5 L214.0,808.9 L214.9,803.7 L215.7,815.2 L216.5,812.0 L217.4,812.6 L218.2,808.8 L219.1,808.7 L219.9,808.7 L220.8,801.9 L221.6,801.9 L222.4,802.6 L223.3,799.0 L224.1,802.7 L225.0,796.3 L225.8,798.6 L226.6,786.7 L227.5,785.8 L228.3,782.7 L229.2,782.2 L230.0,786.3 L230.8,788.5 L231.7,793.6 L232.5,802.8 L233.4,810.4 L234.2,823.4 L235.1,813.2 L235.9,826.1 L236.7,829.6 L237.6,812.0 L238.4,820.2 L239.3,819.9 L240.1,821.9 L240.9,822.6 L241.8,830.9 L242.6,817.9 L243.5,812.4 L244.3,814.7 L245.1,810.9 L246.0,807.8 L246.8,805.8 L247.7,805.8 L248.5,802.6 L249.3,797.9 L250.2,794.5 L251.0,790.1 L251.9,789.0 L252.7,789.0 L253.6,806.0 L254.4,802.9 L255.2,810.3 L256.1,817.4 L256.9,801.7 L257.8,814.7 L258.6,810.6 L259.4,809.0 L260.3,812.4 L261.1,816.0 L262.0,816.4 L262.8,818.5 L263.6,818.5 L264.5,815.9 L265.3,811.3 L266.2,814.9 L267.0,809.0 L267.9,806.9 L268.7,802.1 L269.5,813.6 L270.4,812.8 L271.2,802.2 L272.1,802.2 L272.9,802.2 L273.7,802.2 L274.6,777.6 L275.4,808.6 L276.3,802.9 L277.1,813.5 L277.9,808.0 L278.8,805.4 L279.6,812.5 L280.5,810.8 L281.3,818.7 L282.2,821.3 L283.0,817.3 L283.8,813.4 L284.7,813.4 L285.5,813.4 L286.4,811.2 L287.2,802.8 L288.0,796.1 L288.9,802.8 L289.7,810.7 L290.6,805.3 L291.4,805.2 L292.2,805.8 L293.1,807.4 L293.9,815.1 L294.8,802.7 L295.6,802.7 L296.5,810.7 L297.3,817.2 L298.1,813.9 L299.0,817.2 L299.8,817.2 L300.7,816.1 L301.5,826.5 L302.3,818.6 L303.2,834.2 L304.0,818.6 L304.9,818.5 L305.7,829.6 L306.5,816.0 L307.4,822.0 L308.2,813.8 L309.1,812.5 L309.9,808.8 L310.7,806.0 L311.6,806.0 L312.4,806.0 L313.3,799.6 L314.1,797.1 L315.0,795.8 L315.8,795.1 L316.6,791.0 L317.5,803.8 L318.3,798.5 L319.2,799.4 L320.0,796.3 L320.8,791.8 L321.7,790.4 L322.5,792.8 L323.4,789.7 L324.2,789.7 L325.0,788.4 L325.9,787.7 L326.7,785.9 L327.6,787.6 L328.4,794.9 L329.3,794.9 L330.1,790.9 L330.9,805.7 L331.8,810.5 L332.6,804.6 L333.5,803.7 L334.3,814.5 L335.1,823.9 L336.0,812.4 L336.8,815.3 L337.7,811.8 L338.5,808.0 L339.3,804.6 L340.2,804.6 L341.0,802.8 L341.9,809.5 L342.7,815.6 L343.6,829.9 L344.4,836.8 L345.2,822.8 L346.1,815.0 L346.9,808.7 L347.8,807.9 L348.6,805.8 L349.4,817.8 L350.3,808.7 L351.1,807.7 L352.0,797.2 L352.8,804.6 L353.6,798.1 L354.5,802.6 L355.3,798.9 L356.2,798.8 L357.0,789.7 L357.9,788.2 L358.7,803.2 L359.5,799.4 L360.4,796.0 L361.2,796.5 L362.1,793.9 L362.9,793.9 L363.7,802.0 L364.6,794.7 L365.4,793.3 L366.3,811.0 L367.1,799.4 L367.9,807.0 L368.8,813.2 L369.6,815.9 L370.5,817.6 L371.3,824.8 L372.1,825.4 L373.0,827.1 L373.8,833.5 L374.7,835.8 L375.5,839.0 L376.4,867.1 L377.2,863.6 L378.0,856.7 L378.9,856.6 L379.7,845.6 L380.6,842.7 L381.4,848.3 L382.2,848.9 L383.1,853.0 L383.9,854.7 L384.8,847.2 L385.6,849.3 L386.4,853.9 L387.3,854.1 L388.1,839.5 L389.0,844.4 L389.8,843.9 L390.7,835.8 L391.5,838.0 L392.3,841.5 L393.2,835.4 L394.0,839.6 L394.9,832.3 L395.7,839.4 L396.5,823.2 L397.4,833.1 L398.2,833.1 L399.1,836.1 L399.9,827.3 L400.7,830.1 L401.6,836.0 L402.4,839.4 L403.3,836.3 L404.1,840.5 L405.0,830.6 L405.8,836.9 L406.6,838.9 L407.5,841.3 L408.3,839.9 L409.2,828.8 L410.0,834.5 L410.8,837.2 L411.7,828.9 L412.5,831.6 L413.4,834.2 L414.2,835.1 L415.0,838.1 L415.9,832.3 L416.7,822.3 L417.6,823.2 L418.4,829.7 L419.3,820.0 L420.1,824.7 L420.9,827.4 L421.8,827.5 L422.6,836.4 L423.5,836.9 L424.3,833.5 L425.1,814.8 L426.0,808.1 L426.8,811.9 L427.7,824.5 L428.5,825.5 L429.3,828.8 L430.2,823.7 L431.0,825.7 L431.9,821.4 L432.7,819.0 L433.5,823.9 L434.4,814.5 L435.2,811.1 L436.1,815.0 L436.9,813.2 L437.8,811.1 L438.6,815.4 L439.4,820.7 L440.3,818.8 L441.1,821.9 L442.0,823.5 L442.8,827.5 L443.6,827.4 L444.5,834.9 L445.3,835.4 L446.2,820.9 L447.0,826.4 L447.8,820.0 L448.7,824.8 L449.5,816.7 L450.4,818.2 L451.2,820.4 L452.1,824.4 L452.9,824.4 L453.7,824.4 L454.6,839.4 L455.4,842.0 L456.3,844.6 L457.1,850.5 L457.9,841.0 L458.8,846.7 L459.6,831.0 L460.5,831.5 L461.3,827.9 L462.1,834.8 L463.0,834.8 L463.8,834.0 L464.7,833.3 L465.5,839.6 L466.4,827.0 L467.2,827.0 L468.0,827.2 L468.9,827.2 L469.7,826.7 L470.6,822.4 L471.4,826.2 L472.2,817.5 L473.1,823.5 L473.9,820.8 L474.8,823.6 L475.6,824.3 L476.4,824.3 L477.3,824.3 L478.1,841.7 L479.0,827.2 L479.8,837.1 L480.7,819.5 L481.5,824.4 L482.3,821.8 L483.2,818.7 L484.0,831.3 L484.9,832.9 L485.7,836.7 L486.5,845.7 L487.4,850.0 L488.2,845.7 L489.1,842.6 L489.9,849.2 L490.7,847.8 L491.6,832.3 L492.4,838.1 L493.3,834.9 L494.1,837.2 L494.9,839.0 L495.8,835.0 L496.6,835.0 L497.5,836.3 L498.3,831.8 L499.2,841.0 L500.0,828.1 L500.8,830.2 L501.7,828.6 L502.5,829.3 L503.4,828.5 L504.2,825.5 L505.0,825.5 L505.9,813.2 L506.7,822.5 L507.6,805.9 L508.4,807.3 L509.2,821.7 L510.1,809.4 L510.9,807.4 L511.8,803.4 L512.6,796.1 L513.5,804.4 L514.3,801.9 L515.1,800.7 L516.0,807.2 L516.8,809.0 L517.7,809.7 L518.5,807.2 L519.3,808.2 L520.2,796.0 L521.0,811.4 L521.9,798.5 L522.7,807.4 L523.5,804.5 L524.4,805.7 L525.2,815.2 L526.1,810.6 L526.9,803.8 L527.8,801.5 L528.6,805.7 L529.4,800.3 L530.3,799.9 L531.1,793.0 L532.0,794.9 L532.8,793.7 L533.6,787.8 L534.5,788.6 L535.3,787.2 L536.2,787.4 L537.0,784.6 L537.8,789.2 L538.7,785.3 L539.5,784.2 L540.4,793.1 L541.2,792.9 L542.1,795.4 L542.9,796.4 L543.7,796.4 L544.6,802.9 L545.4,803.7 L546.3,815.2 L547.1,816.6 L547.9,817.1 L548.8,823.5 L549.6,829.2 L550.5,835.5 L551.3,838.2 L552.1,819.7 L553.0,820.6 L553.8,821.0 L554.7,822.1 L555.5,822.8 L556.3,832.1 L557.2,815.2 L558.0,826.4 L558.9,819.9 L559.7,818.8 L560.6,822.1 L561.4,825.8 L562.2,815.6 L563.1,814.8 L563.9,813.7 L564.8,823.2 L565.6,829.8 L566.4,830.6 L567.3,813.2 L568.1,827.9 L569.0,832.1 L569.8,824.1 L570.6,829.8 L571.5,836.1 L572.3,821.6 L573.2,824.9 L574.0,820.0 L574.9,814.6 L575.7,820.4 L576.5,824.8 L577.4,825.7 L578.2,823.2 L579.1,821.8 L579.9,816.4 L580.7,818.7 L581.6,818.9 L582.4,807.2 L583.3,815.5 L584.1,814.5 L584.9,811.4 L585.8,818.7 L586.6,821.0 L587.5,816.7 L588.3,820.1 L589.2,820.7 L590.0,834.2 L590.8,835.2 L591.7,837.3 L592.5,830.6 L593.4,830.5 L594.2,826.4 L595.0,827.5 L595.9,812.3 L596.7,818.9 L597.6,810.0 L598.4,797.2 L599.2,808.3 L600.1,807.8 L600.9,816.3 L601.8,809.8 L602.6,820.2 L603.5,812.0 L604.3,821.2 L605.1,812.0 L606.0,808.7 L606.8,811.1 L607.7,809.2 L608.5,799.8 L609.3,801.6 L610.2,801.3 L611.0,802.3 L611.9,801.5 L612.7,802.4 L613.5,803.5 L614.4,805.2 L615.2,803.2 L616.1,814.4 L616.9,818.2 L617.8,813.7 L618.6,825.5 L619.4,805.6 L620.3,821.8 L621.1,820.5 L622.0,817.5 L622.8,823.3 L623.6,816.9 L624.5,822.4 L625.3,822.4 L626.2,822.4 L627.0,829.9 L627.8,823.8 L628.7,826.4 L629.5,816.5 L630.4,806.5 L631.2,809.2 L632.0,815.6 L632.9,810.5 L633.7,817.2 L634.6,810.2 L635.4,817.3 L636.3,811.1 L637.1,817.1 L637.9,814.2 L638.8,821.9 L639.6,813.3 L640.5,822.3 L641.3,819.9 L642.1,815.6 L643.0,827.6 L643.8,828.0 L644.7,826.5 L645.5,827.5 L646.3,829.3 L647.2,822.0 L648.0,814.8 L648.9,814.8 L649.7,813.6 L650.6,800.6 L651.4,805.0 L652.2,800.7 L653.1,817.3 L653.9,806.4 L654.8,805.8 L655.6,805.8 L656.4,805.3 L657.3,801.8 L658.1,801.8 L659.0,801.8 L659.8,789.0 L660.6,787.4 L661.5,801.7 L662.3,799.9 L663.2,808.6 L664.0,805.0 L664.9,802.1 L665.7,812.5 L666.5,811.7 L667.4,804.2 L668.2,802.0 L669.1,802.0 L669.9,802.0 L670.7,779.5 L671.6,775.1 L672.4,771.3 L673.3,767.5 L674.1,770.7 L674.9,776.8 L675.8,779.6 L676.6,778.3 L677.5,780.3 L678.3,780.5 L679.2,777.6 L680.0,775.2 L680.8,775.8 L681.7,774.3 L682.5,772.5 L683.4,769.5 L684.2,767.6 L685.0,773.0 L685.9,772.3 L686.7,788.5 L687.6,782.0 L688.4,790.5 L689.2,788.7 L690.1,784.6 L690.9,787.9 L691.8,794.3 L692.6,803.4 L693.4,807.4 L694.3,805.0 L695.1,799.0 L696.0,807.8 L696.8,807.9 L697.7,808.7 L698.5,806.4 L699.3,802.6 L700.2,805.2 L701.0,813.6 L701.9,804.0 L702.7,802.6 L703.5,803.7 L704.4,799.2 L705.2,799.2 L706.1,799.2 L706.9,784.0 L707.7,791.8 L708.6,791.5 L709.4,783.8 L710.3,781.1 L711.1,779.5 L712.0,796.5 L712.8,801.6 L713.6,793.3 L714.5,808.2 L715.3,807.8 L716.2,799.6 L717.0,817.4 L717.8,819.3 L718.7,814.4 L719.5,824.5 L720.4,828.8 L721.2,829.0 L722.0,832.6 L722.9,830.2 L723.7,835.6 L724.6,840.2 L725.4,822.3 L726.3,830.7 L727.1,829.2 L727.9,834.8 L728.8,828.4 L729.6,833.2 L730.5,826.5 L731.3,826.7 L732.1,831.5 L733.0,830.7 L733.8,824.4 L734.7,827.2 L735.5,826.5 L736.3,827.6 L737.2,829.8 L738.0,823.8 L738.9,828.0 L739.7,824.2 L740.6,823.6 L741.4,821.4 L742.2,822.9 L743.1,824.1 L743.9,826.9 L744.8,823.7 L745.6,818.8 L746.4,825.6 L747.3,818.6 L748.1,819.5 L749.0,817.0 L749.8,823.3 L750.6,823.6 L751.5,814.9 L752.3,831.7 L753.2,831.7 L754.0,832.9 L754.8,845.1 L755.7,846.7 L756.5,835.1 L757.4,832.7 L758.2,839.5 L759.1,841.4 L759.9,837.7 L760.7,845.5 L761.6,827.6 L762.4,830.7 L763.3,839.9 L764.1,847.5 L764.9,843.7 L765.8,845.3 L766.6,850.2 L767.5,836.2 L768.3,832.6 L769.1,819.6 L770.0,817.2 L770.8,816.0 L771.7,800.7 L772.5,798.3 L773.4,803.2 L774.2,798.4 L775.0,807.4 L775.9,806.1 L776.7,807.9 L777.6,814.3 L778.4,811.1 L779.2,816.3 L780.1,816.7 L780.9,809.7 L781.8,804.9 L782.6,812.3 L783.4,819.0 L784.3,816.1 L785.1,811.8 L786.0,827.7 L786.8,824.5 L787.7,819.0 L788.5,822.2 L789.3,818.7 L790.2,816.1 L791.0,821.1 L791.9,822.8 L792.7,820.7 L793.5,827.2 L794.4,822.2 L795.2,824.2 L796.1,825.2 L796.9,833.0 L797.7,831.1 L798.6,826.4 L799.4,829.9 L800.3,831.0 L801.1,821.9 L802.0,828.1 L802.8,823.5 L803.6,817.0 L804.5,804.9 L805.3,811.3 L806.2,811.3 L807.0,817.5 L807.8,819.0 L808.7,820.2 L809.5,823.6 L810.4,828.1 L811.2,820.7 L812.0,827.7 L812.9,818.7 L813.7,820.8 L814.6,810.5 L815.4,817.9 L816.2,816.5 L817.1,817.6 L817.9,820.9 L818.8,819.5 L819.6,818.1 L820.5,808.5 L821.3,810.7 L822.1,811.4 L823.0,816.3 L823.8,808.0 L824.7,822.3 L825.5,827.2 L826.3,813.9 L827.2,810.5 L828.0,820.6 L828.9,808.6 L829.7,819.7 L830.5,813.0 L831.4,809.2 L832.2,812.9 L833.1,808.5 L833.9,805.2 L834.8,802.8 L835.6,792.3 L836.4,790.7 L837.3,788.9 L838.1,787.5 L839.0,792.3 L839.8,792.3 L840.6,792.3 L841.5,807.0 L842.3,798.7 L843.2,811.4 L844.0,808.6 L844.8,799.2 L845.7,805.0 L846.5,806.2 L847.4,802.9 L848.2,796.1 L849.1,798.4 L849.9,799.7 L850.7,797.2 L851.6,811.1 L852.4,809.3 L853.3,803.1 L854.1,808.6 L854.9,816.2 L855.8,816.6 L856.6,812.1 L857.5,814.5 L858.3,821.3 L859.1,810.7 L860.0,814.6 L860.8,813.4 L861.7,811.1 L862.5,807.0 L863.4,813.4 L864.2,806.1 L865.0,806.7 L865.9,809.9 L866.7,804.8 L867.6,806.7 L868.4,803.7 L869.2,800.9 L870.1,801.5 L870.9,798.1 L871.8,796.4 L872.6,789.2 L873.4,806.6 L874.3,791.4 L875.1,799.8 L876.0,799.3 L876.8,808.7 L877.6,807.6 L878.5,807.4 L879.3,804.9 L880.2,805.5 L881.0,811.3 L881.9,803.7 L882.7,807.4 L883.5,808.9 L884.4,818.2 L885.2,823.1 L886.1,823.1 L886.9,823.1 L887.7,825.6 L888.6,826.0 L889.4,840.0 L890.3,829.8 L891.1,811.0 L891.9,828.4 L892.8,822.0 L893.6,827.3 L894.5,828.5 L895.3,830.0 L896.2,828.1 L897.0,816.8 L897.8,820.9 L898.7,825.4 L899.5,831.5 L900.4,815.1 L901.2,827.2 L902.0,823.7 L902.9,825.8 L903.7,822.1 L904.6,830.7 L905.4,820.9 L906.2,821.0 L907.1,829.1 L907.9,829.7 L908.8,823.7 L909.6,821.1 L910.5,825.0 L911.3,824.6 L912.1,818.0 L913.0,813.7 L913.8,814.9 L914.7,805.5 L915.5,795.3 L916.3,808.8 L917.2,809.1 L918.0,828.5 L918.9,833.5 L919.7,842.7 L920.5,847.7 L921.4,841.0 L922.2,843.0 L923.1,837.8 L923.9,835.0 L924.8,838.0 L925.6,828.2 L926.4,827.8 L927.3,831.3 L928.1,831.9 L929.0,820.8 L929.8,827.8 L930.6,822.8 L931.5,826.9 L932.3,823.0 L933.2,821.4 L934.0,823.5 L934.8,824.6 L935.7,822.4 L936.5,815.2 L937.4,827.9 L938.2,818.5 L939.0,824.8 L939.9,816.0 L940.7,814.1 L941.6,813.2 L942.4,813.2 L943.3,814.8 L944.1,812.0 L944.9,812.5 L945.8,816.0 L946.6,806.0 L947.5,802.2 L948.3,809.0 L949.1,810.0 L950.0,806.7 L950.8,806.3 L951.7,798.4 L952.5,804.6 L953.3,797.3 L954.2,810.3 L955.0,807.6 L955.9,803.4 L956.7,801.3 L957.6,801.9 L958.4,805.2 L959.2,805.1 L960.1,806.5 L960.9,802.4 L961.8,809.5 L962.6,807.2 L963.4,804.2 L964.3,811.5 L965.1,797.6 L966.0,809.6 L966.8,813.4 L967.6,801.4 L968.5,818.8 L969.3,818.2 L970.2,816.7 L971.0,811.1 L971.9,816.7 L972.7,808.8 L973.5,813.3 L974.4,808.8 L975.2,810.3 L976.1,807.5 L976.9,809.7 L977.7,811.2 L978.6,809.9 L979.4,817.1 L980.3,820.5 L981.1,815.7 L981.9,813.3 L982.8,811.7 L983.6,821.2 L984.5,816.8 L985.3,819.1 L986.2,833.8 L987.0,828.2 L987.8,819.4 L988.7,831.7 L989.5,828.5 L990.4,832.5 L991.2,838.3 L992.0,817.5 L992.9,819.7 L993.7,822.1 L994.6,818.5 L995.4,812.4 L996.2,821.8 L997.1,819.2 L997.9,822.7 L998.8,816.6 L999.6,805.5 L1000.4,801.7 L1001.3,799.7 L1002.1,798.3 L1003.0,796.4 L1003.8,782.9 L1004.7,782.8 L1005.5,778.4 L1006.3,774.2 L1007.2,773.9 L1008.0,781.5 L1008.9,777.2 L1009.7,774.9 L1010.5,777.2 L1011.4,776.9 L1012.2,772.4 L1013.1,769.4 L1013.9,788.4 L1014.7,785.7 L1015.6,791.7 L1016.4,802.8 L1017.3,799.1 L1018.1,792.6 L1019.0,791.0 L1019.8,788.4 L1020.6,786.4 L1021.5,785.7 L1022.3,782.2 L1023.2,778.6 L1024.0,787.7 L1024.8,797.9 L1025.7,787.4 L1026.5,787.1 L1027.4,783.4 L1028.2,791.4 L1029.0,790.6 L1029.9,795.7 L1030.7,792.1 L1031.6,792.2 L1032.4,807.7 L1033.3,805.4 L1034.1,804.1 L1034.9,799.1 L1035.8,802.0 L1036.6,799.3 L1037.5,795.6 L1038.3,799.6 L1039.1,797.8 L1040.0,802.0 L1040.8,802.8 L1041.7,794.2 L1042.5,807.9 L1043.3,800.6 L1044.2,800.6 L1045.0,810.9 L1045.9,803.9 L1046.7,804.5 L1047.6,809.7 L1048.4,807.4 L1049.2,810.7 L1050.1,804.2 L1050.9,809.7 L1051.8,807.3 L1052.6,813.8 L1053.4,827.1 L1054.3,824.9 L1055.1,810.3 L1056.0,800.3 L1056.8,799.9 L1057.6,801.1 L1058.5,796.3 L1059.3,799.5 L1060.2,803.3 L1061.0,808.4 L1061.9,817.8 L1062.7,821.4 L1063.5,821.7 L1064.4,827.1 L1065.2,820.4 L1066.1,831.5 L1066.9,811.1 L1067.7,821.4 L1068.6,810.0 L1069.4,816.8 L1070.3,813.0 L1071.1,808.8 L1071.9,807.2 L1072.8,815.1 L1073.6,813.1 L1074.5,804.9 L1075.3,815.2 L1076.1,816.0 L1077.0,817.9 L1077.8,820.7 L1078.7,816.1 L1079.5,822.8 L1080.4,828.6 L1081.2,827.3 L1082.0,824.1 L1082.9,827.9 L1083.7,816.4 L1084.6,822.4 L1085.4,817.7 L1086.2,821.3 L1087.1,819.1 L1087.9,813.6 L1088.8,812.3 L1089.6,809.0 L1090.4,815.0 L1091.3,810.2 L1092.1,804.7 L1093.0,797.4 L1093.8,788.9 L1094.7,797.4 L1095.5,794.3 L1096.3,797.1 L1097.2,805.0 L1098.0,801.2 L1098.9,798.9 L1099.7,798.8 L1100.5,794.7 L1101.4,792.0 L1102.2,782.8 L1103.1,797.0 L1103.9,802.2 L1104.7,804.8 L1105.6,802.6 L1106.4,802.9 L1107.3,797.6 L1108.1,802.4 L1109.0,807.4 L1109.8,807.8 L1110.6,805.5 L1111.5,811.2 L1112.3,814.0 L1113.2,820.4 L1114.0,824.2 L1114.8,824.2 L1115.7,830.8 L1116.5,829.4 L1117.4,828.9 L1118.2,832.3 L1119.0,835.8 L1119.9,832.6 L1120.7,844.9 L1121.6,845.5 L1122.4,835.9 L1123.3,841.0 L1124.1,830.7 L1124.9,834.1 L1125.8,826.0 L1126.6,826.0 L1127.5,812.8 L1128.3,812.4 L1129.1,816.2 L1130.0,804.7 L1130.8,808.1 L1131.7,806.8 L1132.5,810.5 L1133.3,810.3 L1134.2,800.4 L1135.0,805.0 L1135.9,802.1 L1136.7,805.2 L1137.5,803.3 L1138.4,792.9 L1139.2,791.6 L1140.1,791.1 L1140.9,791.4 L1141.8,788.9 L1142.6,789.7 L1143.4,789.1 L1144.3,789.3 L1145.1,795.2 L1146.0,791.6 L1146.8,791.6 L1147.6,787.5 L1148.5,790.2 L1149.3,786.8 L1150.2,786.8 L1151.0,784.6 L1151.8,782.9 L1152.7,781.5 L1153.5,776.7 L1154.4,788.1 L1155.2,784.0 L1156.1,792.5 L1156.9,789.3 L1157.7,793.8 L1158.6,792.2 L1159.4,798.5 L1160.3,803.2 L1161.1,811.9 L1161.9,812.4 L1162.8,827.1 L1163.6,829.5 L1164.5,831.3 L1165.3,832.3 L1166.1,826.4 L1167.0,827.8 L1167.8,821.3 L1168.7,822.4 L1169.5,821.0 L1170.4,816.9 L1171.2,814.8 L1172.0,814.6 L1172.9,807.9 L1173.7,802.9 L1174.6,804.3 L1175.4,802.5 L1176.2,798.0 L1177.1,811.5 L1177.9,802.3 L1178.8,806.1 L1179.6,804.4 L1180.4,803.2 L1181.3,810.9 L1182.1,801.2 L1183.0,803.0 L1183.8,791.5 L1184.7,804.4 L1185.5,803.7 L1186.3,800.8 L1187.2,801.2 L1188.0,810.1 L1188.9,810.1 L1189.7,810.1 L1190.5,809.2 L1191.4,827.5 L1192.2,824.3 L1193.1,818.8 L1193.9,819.8 L1194.7,811.2 L1195.6,804.8 L1196.4,810.3 L1197.3,814.8 L1198.1,806.9 L1198.9,814.9 L1199.8,806.5 L1200.6,800.5 L1201.5,805.2 L1202.3,804.6 L1203.2,797.9 L1204.0,794.5 L1204.8,792.7 L1205.7,791.7 L1206.5,801.7 L1207.4,795.5 L1208.2,798.2 L1209.0,795.1 L1209.9,793.3 L1210.7,796.7 L1211.6,795.9 L1212.4,790.4 L1213.2,784.6 L1214.1,794.7 L1214.9,794.1 L1215.8,798.3 L1216.6,792.9 L1217.5,792.2 L1218.3,794.7 L1219.1,789.4 L1220.0,789.3 L1220.8,794.8 L1221.7,806.7 L1222.5,803.1 L1222.5,785.5 L13.0,785.5 Z" fill="#4caf50" fill-opacity="0.22" clip-path="url(#cob)"/><path d="M13.0,870.2 L13.8,864.6 L14.7,858.1 L15.5,835.5 L16.4,827.2 L17.2,827.9 L18.0,831.1 L18.9,841.2 L19.7,849.5 L20.6,857.7 L21.4,857.8 L22.3,857.8 L23.1,852.2 L23.9,853.7 L24.8,841.4 L25.6,839.3 L26.5,824.1 L27.3,817.7 L28.1,815.0 L29.0,809.3 L29.8,806.0 L30.7,797.1 L31.5,806.9 L32.3,802.2 L33.2,795.9 L34.0,802.4 L34.9,810.9 L35.7,809.6 L36.6,811.1 L37.4,815.2 L38.2,803.7 L39.1,805.9 L39.9,810.5 L40.8,818.7 L41.6,829.6 L42.4,828.0 L43.3,826.7 L44.1,828.7 L45.0,829.2 L45.8,824.1 L46.6,824.5 L47.5,832.0 L48.3,833.2 L49.2,837.2 L50.0,842.0 L50.8,843.7 L51.7,845.7 L52.5,849.6 L53.4,846.7 L54.2,852.6 L55.1,852.6 L55.9,858.6 L56.7,859.3 L57.6,860.1 L58.4,862.1 L59.3,865.7 L60.1,853.9 L60.9,845.0 L61.8,850.0 L62.6,849.9 L63.5,842.7 L64.3,835.9 L65.1,835.9 L66.0,821.6 L66.8,823.7 L67.7,817.7 L68.5,819.1 L69.4,824.1 L70.2,821.5 L71.0,826.2 L71.9,826.2 L72.7,826.2 L73.6,826.2 L74.4,826.2 L75.2,826.2 L76.1,844.9 L76.9,846.8 L77.8,833.9 L78.6,836.4 L79.4,838.3 L80.3,833.4 L81.1,838.9 L82.0,822.0 L82.8,830.3 L83.7,824.0 L84.5,825.1 L85.3,825.8 L86.2,816.6 L87.0,814.4 L87.9,824.1 L88.7,820.2 L89.5,815.3 L90.4,812.9 L91.2,815.3 L92.1,812.3 L92.9,812.3 L93.7,804.9 L94.6,804.9 L95.4,803.0 L96.3,797.5 L97.1,802.7 L98.0,797.1 L98.8,807.6 L99.6,811.9 L100.5,812.0 L101.3,807.3 L102.2,807.4 L103.0,804.8 L103.8,801.0 L104.7,818.7 L105.5,819.0 L106.4,821.7 L107.2,809.9 L108.0,820.6 L108.9,815.4 L109.7,823.6 L110.6,832.3 L111.4,810.0 L112.2,823.3 L113.1,815.6 L113.9,815.1 L114.8,815.8 L115.6,820.5 L116.5,822.2 L117.3,817.0 L118.1,828.7 L119.0,829.4 L119.8,843.6 L120.7,844.8 L121.5,836.4 L122.3,825.7 L123.2,830.3 L124.0,818.3 L124.9,819.3 L125.7,816.1 L126.5,817.8 L127.4,818.9 L128.2,824.6 L129.1,829.8 L129.9,834.5 L130.8,832.9 L131.6,833.7 L132.4,834.5 L133.3,831.2 L134.1,831.4 L135.0,833.8 L135.8,829.2 L136.6,816.2 L137.5,829.2 L138.3,818.5 L139.2,829.2 L140.0,817.5 L140.8,819.3 L141.7,822.0 L142.5,828.4 L143.4,833.3 L144.2,838.8 L145.1,831.0 L145.9,834.2 L146.7,825.6 L147.6,817.6 L148.4,811.8 L149.3,811.4 L150.1,805.9 L150.9,807.6 L151.8,808.1 L152.6,815.0 L153.5,809.4 L154.3,812.6 L155.1,808.0 L156.0,808.0 L156.8,802.7 L157.7,802.8 L158.5,797.7 L159.4,792.0 L160.2,802.2 L161.0,796.0 L161.9,789.2 L162.7,792.7 L163.6,793.7 L164.4,790.2 L165.2,787.2 L166.1,784.6 L166.9,789.0 L167.8,796.3 L168.6,791.2 L169.4,800.9 L170.3,800.9 L171.1,801.4 L172.0,801.4 L172.8,800.9 L173.6,819.6 L174.5,805.0 L175.3,811.8 L176.2,816.0 L177.0,812.0 L177.9,824.1 L178.7,824.2 L179.5,828.9 L180.4,827.1 L181.2,831.6 L182.1,840.6 L182.9,842.0 L183.7,831.5 L184.6,827.7 L185.4,831.1 L186.3,825.0 L187.1,825.6 L187.9,824.7 L188.8,823.9 L189.6,827.1 L190.5,827.1 L191.3,839.5 L192.2,825.8 L193.0,828.9 L193.8,820.3 L194.7,823.0 L195.5,813.7 L196.4,804.4 L197.2,806.3 L198.0,801.4 L198.9,805.9 L199.7,804.9 L200.6,812.2 L201.4,812.7 L202.2,810.8 L203.1,811.2 L203.9,814.6 L204.8,813.9 L205.6,813.5 L206.5,810.3 L207.3,807.0 L208.1,807.0 L209.0,807.0 L209.8,794.8 L210.7,786.7 L211.5,805.8 L212.3,800.6 L213.2,802.5 L214.0,808.9 L214.9,803.7 L215.7,815.2 L216.5,812.0 L217.4,812.6 L218.2,808.8 L219.1,808.7 L219.9,808.7 L220.8,801.9 L221.6,801.9 L222.4,802.6 L223.3,799.0 L224.1,802.7 L225.0,796.3 L225.8,798.6 L226.6,786.7 L227.5,785.8 L228.3,782.7 L229.2,782.2 L230.0,786.3 L230.8,788.5 L231.7,793.6 L232.5,802.8 L233.4,810.4 L234.2,823.4 L235.1,813.2 L235.9,826.1 L236.7,829.6 L237.6,812.0 L238.4,820.2 L239.3,819.9 L240.1,821.9 L240.9,822.6 L241.8,830.9 L242.6,817.9 L243.5,812.4 L244.3,814.7 L245.1,810.9 L246.0,807.8 L246.8,805.8 L247.7,805.8 L248.5,802.6 L249.3,797.9 L250.2,794.5 L251.0,790.1 L251.9,789.0 L252.7,789.0 L253.6,806.0 L254.4,802.9 L255.2,810.3 L256.1,817.4 L256.9,801.7 L257.8,814.7 L258.6,810.6 L259.4,809.0 L260.3,812.4 L261.1,816.0 L262.0,816.4 L262.8,818.5 L263.6,818.5 L264.5,815.9 L265.3,811.3 L266.2,814.9 L267.0,809.0 L267.9,806.9 L268.7,802.1 L269.5,813.6 L270.4,812.8 L271.2,802.2 L272.1,802.2 L272.9,802.2 L273.7,802.2 L274.6,777.6 L275.4,808.6 L276.3,802.9 L277.1,813.5 L277.9,808.0 L278.8,805.4 L279.6,812.5 L280.5,810.8 L281.3,818.7 L282.2,821.3 L283.0,817.3 L283.8,813.4 L284.7,813.4 L285.5,813.4 L286.4,811.2 L287.2,802.8 L288.0,796.1 L288.9,802.8 L289.7,810.7 L290.6,805.3 L291.4,805.2 L292.2,805.8 L293.1,807.4 L293.9,815.1 L294.8,802.7 L295.6,802.7 L296.5,810.7 L297.3,817.2 L298.1,813.9 L299.0,817.2 L299.8,817.2 L300.7,816.1 L301.5,826.5 L302.3,818.6 L303.2,834.2 L304.0,818.6 L304.9,818.5 L305.7,829.6 L306.5,816.0 L307.4,822.0 L308.2,813.8 L309.1,812.5 L309.9,808.8 L310.7,806.0 L311.6,806.0 L312.4,806.0 L313.3,799.6 L314.1,797.1 L315.0,795.8 L315.8,795.1 L316.6,791.0 L317.5,803.8 L318.3,798.5 L319.2,799.4 L320.0,796.3 L320.8,791.8 L321.7,790.4 L322.5,792.8 L323.4,789.7 L324.2,789.7 L325.0,788.4 L325.9,787.7 L326.7,785.9 L327.6,787.6 L328.4,794.9 L329.3,794.9 L330.1,790.9 L330.9,805.7 L331.8,810.5 L332.6,804.6 L333.5,803.7 L334.3,814.5 L335.1,823.9 L336.0,812.4 L336.8,815.3 L337.7,811.8 L338.5,808.0 L339.3,804.6 L340.2,804.6 L341.0,802.8 L341.9,809.5 L342.7,815.6 L343.6,829.9 L344.4,836.8 L345.2,822.8 L346.1,815.0 L346.9,808.7 L347.8,807.9 L348.6,805.8 L349.4,817.8 L350.3,808.7 L351.1,807.7 L352.0,797.2 L352.8,804.6 L353.6,798.1 L354.5,802.6 L355.3,798.9 L356.2,798.8 L357.0,789.7 L357.9,788.2 L358.7,803.2 L359.5,799.4 L360.4,796.0 L361.2,796.5 L362.1,793.9 L362.9,793.9 L363.7,802.0 L364.6,794.7 L365.4,793.3 L366.3,811.0 L367.1,799.4 L367.9,807.0 L368.8,813.2 L369.6,815.9 L370.5,817.6 L371.3,824.8 L372.1,825.4 L373.0,827.1 L373.8,833.5 L374.7,835.8 L375.5,839.0 L376.4,867.1 L377.2,863.6 L378.0,856.7 L378.9,856.6 L379.7,845.6 L380.6,842.7 L381.4,848.3 L382.2,848.9 L383.1,853.0 L383.9,854.7 L384.8,847.2 L385.6,849.3 L386.4,853.9 L387.3,854.1 L388.1,839.5 L389.0,844.4 L389.8,843.9 L390.7,835.8 L391.5,838.0 L392.3,841.5 L393.2,835.4 L394.0,839.6 L394.9,832.3 L395.7,839.4 L396.5,823.2 L397.4,833.1 L398.2,833.1 L399.1,836.1 L399.9,827.3 L400.7,830.1 L401.6,836.0 L402.4,839.4 L403.3,836.3 L404.1,840.5 L405.0,830.6 L405.8,836.9 L406.6,838.9 L407.5,841.3 L408.3,839.9 L409.2,828.8 L410.0,834.5 L410.8,837.2 L411.7,828.9 L412.5,831.6 L413.4,834.2 L414.2,835.1 L415.0,838.1 L415.9,832.3 L416.7,822.3 L417.6,823.2 L418.4,829.7 L419.3,820.0 L420.1,824.7 L420.9,827.4 L421.8,827.5 L422.6,836.4 L423.5,836.9 L424.3,833.5 L425.1,814.8 L426.0,808.1 L426.8,811.9 L427.7,824.5 L428.5,825.5 L429.3,828.8 L430.2,823.7 L431.0,825.7 L431.9,821.4 L432.7,819.0 L433.5,823.9 L434.4,814.5 L435.2,811.1 L436.1,815.0 L436.9,813.2 L437.8,811.1 L438.6,815.4 L439.4,820.7 L440.3,818.8 L441.1,821.9 L442.0,823.5 L442.8,827.5 L443.6,827.4 L444.5,834.9 L445.3,835.4 L446.2,820.9 L447.0,826.4 L447.8,820.0 L448.7,824.8 L449.5,816.7 L450.4,818.2 L451.2,820.4 L452.1,824.4 L452.9,824.4 L453.7,824.4 L454.6,839.4 L455.4,842.0 L456.3,844.6 L457.1,850.5 L457.9,841.0 L458.8,846.7 L459.6,831.0 L460.5,831.5 L461.3,827.9 L462.1,834.8 L463.0,834.8 L463.8,834.0 L464.7,833.3 L465.5,839.6 L466.4,827.0 L467.2,827.0 L468.0,827.2 L468.9,827.2 L469.7,826.7 L470.6,822.4 L471.4,826.2 L472.2,817.5 L473.1,823.5 L473.9,820.8 L474.8,823.6 L475.6,824.3 L476.4,824.3 L477.3,824.3 L478.1,841.7 L479.0,827.2 L479.8,837.1 L480.7,819.5 L481.5,824.4 L482.3,821.8 L483.2,818.7 L484.0,831.3 L484.9,832.9 L485.7,836.7 L486.5,845.7 L487.4,850.0 L488.2,845.7 L489.1,842.6 L489.9,849.2 L490.7,847.8 L491.6,832.3 L492.4,838.1 L493.3,834.9 L494.1,837.2 L494.9,839.0 L495.8,835.0 L496.6,835.0 L497.5,836.3 L498.3,831.8 L499.2,841.0 L500.0,828.1 L500.8,830.2 L501.7,828.6 L502.5,829.3 L503.4,828.5 L504.2,825.5 L505.0,825.5 L505.9,813.2 L506.7,822.5 L507.6,805.9 L508.4,807.3 L509.2,821.7 L510.1,809.4 L510.9,807.4 L511.8,803.4 L512.6,796.1 L513.5,804.4 L514.3,801.9 L515.1,800.7 L516.0,807.2 L516.8,809.0 L517.7,809.7 L518.5,807.2 L519.3,808.2 L520.2,796.0 L521.0,811.4 L521.9,798.5 L522.7,807.4 L523.5,804.5 L524.4,805.7 L525.2,815.2 L526.1,810.6 L526.9,803.8 L527.8,801.5 L528.6,805.7 L529.4,800.3 L530.3,799.9 L531.1,793.0 L532.0,794.9 L532.8,793.7 L533.6,787.8 L534.5,788.6 L535.3,787.2 L536.2,787.4 L537.0,784.6 L537.8,789.2 L538.7,785.3 L539.5,784.2 L540.4,793.1 L541.2,792.9 L542.1,795.4 L542.9,796.4 L543.7,796.4 L544.6,802.9 L545.4,803.7 L546.3,815.2 L547.1,816.6 L547.9,817.1 L548.8,823.5 L549.6,829.2 L550.5,835.5 L551.3,838.2 L552.1,819.7 L553.0,820.6 L553.8,821.0 L554.7,822.1 L555.5,822.8 L556.3,832.1 L557.2,815.2 L558.0,826.4 L558.9,819.9 L559.7,818.8 L560.6,822.1 L561.4,825.8 L562.2,815.6 L563.1,814.8 L563.9,813.7 L564.8,823.2 L565.6,829.8 L566.4,830.6 L567.3,813.2 L568.1,827.9 L569.0,832.1 L569.8,824.1 L570.6,829.8 L571.5,836.1 L572.3,821.6 L573.2,824.9 L574.0,820.0 L574.9,814.6 L575.7,820.4 L576.5,824.8 L577.4,825.7 L578.2,823.2 L579.1,821.8 L579.9,816.4 L580.7,818.7 L581.6,818.9 L582.4,807.2 L583.3,815.5 L584.1,814.5 L584.9,811.4 L585.8,818.7 L586.6,821.0 L587.5,816.7 L588.3,820.1 L589.2,820.7 L590.0,834.2 L590.8,835.2 L591.7,837.3 L592.5,830.6 L593.4,830.5 L594.2,826.4 L595.0,827.5 L595.9,812.3 L596.7,818.9 L597.6,810.0 L598.4,797.2 L599.2,808.3 L600.1,807.8 L600.9,816.3 L601.8,809.8 L602.6,820.2 L603.5,812.0 L604.3,821.2 L605.1,812.0 L606.0,808.7 L606.8,811.1 L607.7,809.2 L608.5,799.8 L609.3,801.6 L610.2,801.3 L611.0,802.3 L611.9,801.5 L612.7,802.4 L613.5,803.5 L614.4,805.2 L615.2,803.2 L616.1,814.4 L616.9,818.2 L617.8,813.7 L618.6,825.5 L619.4,805.6 L620.3,821.8 L621.1,820.5 L622.0,817.5 L622.8,823.3 L623.6,816.9 L624.5,822.4 L625.3,822.4 L626.2,822.4 L627.0,829.9 L627.8,823.8 L628.7,826.4 L629.5,816.5 L630.4,806.5 L631.2,809.2 L632.0,815.6 L632.9,810.5 L633.7,817.2 L634.6,810.2 L635.4,817.3 L636.3,811.1 L637.1,817.1 L637.9,814.2 L638.8,821.9 L639.6,813.3 L640.5,822.3 L641.3,819.9 L642.1,815.6 L643.0,827.6 L643.8,828.0 L644.7,826.5 L645.5,827.5 L646.3,829.3 L647.2,822.0 L648.0,814.8 L648.9,814.8 L649.7,813.6 L650.6,800.6 L651.4,805.0 L652.2,800.7 L653.1,817.3 L653.9,806.4 L654.8,805.8 L655.6,805.8 L656.4,805.3 L657.3,801.8 L658.1,801.8 L659.0,801.8 L659.8,789.0 L660.6,787.4 L661.5,801.7 L662.3,799.9 L663.2,808.6 L664.0,805.0 L664.9,802.1 L665.7,812.5 L666.5,811.7 L667.4,804.2 L668.2,802.0 L669.1,802.0 L669.9,802.0 L670.7,779.5 L671.6,775.1 L672.4,771.3 L673.3,767.5 L674.1,770.7 L674.9,776.8 L675.8,779.6 L676.6,778.3 L677.5,780.3 L678.3,780.5 L679.2,777.6 L680.0,775.2 L680.8,775.8 L681.7,774.3 L682.5,772.5 L683.4,769.5 L684.2,767.6 L685.0,773.0 L685.9,772.3 L686.7,788.5 L687.6,782.0 L688.4,790.5 L689.2,788.7 L690.1,784.6 L690.9,787.9 L691.8,794.3 L692.6,803.4 L693.4,807.4 L694.3,805.0 L695.1,799.0 L696.0,807.8 L696.8,807.9 L697.7,808.7 L698.5,806.4 L699.3,802.6 L700.2,805.2 L701.0,813.6 L701.9,804.0 L702.7,802.6 L703.5,803.7 L704.4,799.2 L705.2,799.2 L706.1,799.2 L706.9,784.0 L707.7,791.8 L708.6,791.5 L709.4,783.8 L710.3,781.1 L711.1,779.5 L712.0,796.5 L712.8,801.6 L713.6,793.3 L714.5,808.2 L715.3,807.8 L716.2,799.6 L717.0,817.4 L717.8,819.3 L718.7,814.4 L719.5,824.5 L720.4,828.8 L721.2,829.0 L722.0,832.6 L722.9,830.2 L723.7,835.6 L724.6,840.2 L725.4,822.3 L726.3,830.7 L727.1,829.2 L727.9,834.8 L728.8,828.4 L729.6,833.2 L730.5,826.5 L731.3,826.7 L732.1,831.5 L733.0,830.7 L733.8,824.4 L734.7,827.2 L735.5,826.5 L736.3,827.6 L737.2,829.8 L738.0,823.8 L738.9,828.0 L739.7,824.2 L740.6,823.6 L741.4,821.4 L742.2,822.9 L743.1,824.1 L743.9,826.9 L744.8,823.7 L745.6,818.8 L746.4,825.6 L747.3,818.6 L748.1,819.5 L749.0,817.0 L749.8,823.3 L750.6,823.6 L751.5,814.9 L752.3,831.7 L753.2,831.7 L754.0,832.9 L754.8,845.1 L755.7,846.7 L756.5,835.1 L757.4,832.7 L758.2,839.5 L759.1,841.4 L759.9,837.7 L760.7,845.5 L761.6,827.6 L762.4,830.7 L763.3,839.9 L764.1,847.5 L764.9,843.7 L765.8,845.3 L766.6,850.2 L767.5,836.2 L768.3,832.6 L769.1,819.6 L770.0,817.2 L770.8,816.0 L771.7,800.7 L772.5,798.3 L773.4,803.2 L774.2,798.4 L775.0,807.4 L775.9,806.1 L776.7,807.9 L777.6,814.3 L778.4,811.1 L779.2,816.3 L780.1,816.7 L780.9,809.7 L781.8,804.9 L782.6,812.3 L783.4,819.0 L784.3,816.1 L785.1,811.8 L786.0,827.7 L786.8,824.5 L787.7,819.0 L788.5,822.2 L789.3,818.7 L790.2,816.1 L791.0,821.1 L791.9,822.8 L792.7,820.7 L793.5,827.2 L794.4,822.2 L795.2,824.2 L796.1,825.2 L796.9,833.0 L797.7,831.1 L798.6,826.4 L799.4,829.9 L800.3,831.0 L801.1,821.9 L802.0,828.1 L802.8,823.5 L803.6,817.0 L804.5,804.9 L805.3,811.3 L806.2,811.3 L807.0,817.5 L807.8,819.0 L808.7,820.2 L809.5,823.6 L810.4,828.1 L811.2,820.7 L812.0,827.7 L812.9,818.7 L813.7,820.8 L814.6,810.5 L815.4,817.9 L816.2,816.5 L817.1,817.6 L817.9,820.9 L818.8,819.5 L819.6,818.1 L820.5,808.5 L821.3,810.7 L822.1,811.4 L823.0,816.3 L823.8,808.0 L824.7,822.3 L825.5,827.2 L826.3,813.9 L827.2,810.5 L828.0,820.6 L828.9,808.6 L829.7,819.7 L830.5,813.0 L831.4,809.2 L832.2,812.9 L833.1,808.5 L833.9,805.2 L834.8,802.8 L835.6,792.3 L836.4,790.7 L837.3,788.9 L838.1,787.5 L839.0,792.3 L839.8,792.3 L840.6,792.3 L841.5,807.0 L842.3,798.7 L843.2,811.4 L844.0,808.6 L844.8,799.2 L845.7,805.0 L846.5,806.2 L847.4,802.9 L848.2,796.1 L849.1,798.4 L849.9,799.7 L850.7,797.2 L851.6,811.1 L852.4,809.3 L853.3,803.1 L854.1,808.6 L854.9,816.2 L855.8,816.6 L856.6,812.1 L857.5,814.5 L858.3,821.3 L859.1,810.7 L860.0,814.6 L860.8,813.4 L861.7,811.1 L862.5,807.0 L863.4,813.4 L864.2,806.1 L865.0,806.7 L865.9,809.9 L866.7,804.8 L867.6,806.7 L868.4,803.7 L869.2,800.9 L870.1,801.5 L870.9,798.1 L871.8,796.4 L872.6,789.2 L873.4,806.6 L874.3,791.4 L875.1,799.8 L876.0,799.3 L876.8,808.7 L877.6,807.6 L878.5,807.4 L879.3,804.9 L880.2,805.5 L881.0,811.3 L881.9,803.7 L882.7,807.4 L883.5,808.9 L884.4,818.2 L885.2,823.1 L886.1,823.1 L886.9,823.1 L887.7,825.6 L888.6,826.0 L889.4,840.0 L890.3,829.8 L891.1,811.0 L891.9,828.4 L892.8,822.0 L893.6,827.3 L894.5,828.5 L895.3,830.0 L896.2,828.1 L897.0,816.8 L897.8,820.9 L898.7,825.4 L899.5,831.5 L900.4,815.1 L901.2,827.2 L902.0,823.7 L902.9,825.8 L903.7,822.1 L904.6,830.7 L905.4,820.9 L906.2,821.0 L907.1,829.1 L907.9,829.7 L908.8,823.7 L909.6,821.1 L910.5,825.0 L911.3,824.6 L912.1,818.0 L913.0,813.7 L913.8,814.9 L914.7,805.5 L915.5,795.3 L916.3,808.8 L917.2,809.1 L918.0,828.5 L918.9,833.5 L919.7,842.7 L920.5,847.7 L921.4,841.0 L922.2,843.0 L923.1,837.8 L923.9,835.0 L924.8,838.0 L925.6,828.2 L926.4,827.8 L927.3,831.3 L928.1,831.9 L929.0,820.8 L929.8,827.8 L930.6,822.8 L931.5,826.9 L932.3,823.0 L933.2,821.4 L934.0,823.5 L934.8,824.6 L935.7,822.4 L936.5,815.2 L937.4,827.9 L938.2,818.5 L939.0,824.8 L939.9,816.0 L940.7,814.1 L941.6,813.2 L942.4,813.2 L943.3,814.8 L944.1,812.0 L944.9,812.5 L945.8,816.0 L946.6,806.0 L947.5,802.2 L948.3,809.0 L949.1,810.0 L950.0,806.7 L950.8,806.3 L951.7,798.4 L952.5,804.6 L953.3,797.3 L954.2,810.3 L955.0,807.6 L955.9,803.4 L956.7,801.3 L957.6,801.9 L958.4,805.2 L959.2,805.1 L960.1,806.5 L960.9,802.4 L961.8,809.5 L962.6,807.2 L963.4,804.2 L964.3,811.5 L965.1,797.6 L966.0,809.6 L966.8,813.4 L967.6,801.4 L968.5,818.8 L969.3,818.2 L970.2,816.7 L971.0,811.1 L971.9,816.7 L972.7,808.8 L973.5,813.3 L974.4,808.8 L975.2,810.3 L976.1,807.5 L976.9,809.7 L977.7,811.2 L978.6,809.9 L979.4,817.1 L980.3,820.5 L981.1,815.7 L981.9,813.3 L982.8,811.7 L983.6,821.2 L984.5,816.8 L985.3,819.1 L986.2,833.8 L987.0,828.2 L987.8,819.4 L988.7,831.7 L989.5,828.5 L990.4,832.5 L991.2,838.3 L992.0,817.5 L992.9,819.7 L993.7,822.1 L994.6,818.5 L995.4,812.4 L996.2,821.8 L997.1,819.2 L997.9,822.7 L998.8,816.6 L999.6,805.5 L1000.4,801.7 L1001.3,799.7 L1002.1,798.3 L1003.0,796.4 L1003.8,782.9 L1004.7,782.8 L1005.5,778.4 L1006.3,774.2 L1007.2,773.9 L1008.0,781.5 L1008.9,777.2 L1009.7,774.9 L1010.5,777.2 L1011.4,776.9 L1012.2,772.4 L1013.1,769.4 L1013.9,788.4 L1014.7,785.7 L1015.6,791.7 L1016.4,802.8 L1017.3,799.1 L1018.1,792.6 L1019.0,791.0 L1019.8,788.4 L1020.6,786.4 L1021.5,785.7 L1022.3,782.2 L1023.2,778.6 L1024.0,787.7 L1024.8,797.9 L1025.7,787.4 L1026.5,787.1 L1027.4,783.4 L1028.2,791.4 L1029.0,790.6 L1029.9,795.7 L1030.7,792.1 L1031.6,792.2 L1032.4,807.7 L1033.3,805.4 L1034.1,804.1 L1034.9,799.1 L1035.8,802.0 L1036.6,799.3 L1037.5,795.6 L1038.3,799.6 L1039.1,797.8 L1040.0,802.0 L1040.8,802.8 L1041.7,794.2 L1042.5,807.9 L1043.3,800.6 L1044.2,800.6 L1045.0,810.9 L1045.9,803.9 L1046.7,804.5 L1047.6,809.7 L1048.4,807.4 L1049.2,810.7 L1050.1,804.2 L1050.9,809.7 L1051.8,807.3 L1052.6,813.8 L1053.4,827.1 L1054.3,824.9 L1055.1,810.3 L1056.0,800.3 L1056.8,799.9 L1057.6,801.1 L1058.5,796.3 L1059.3,799.5 L1060.2,803.3 L1061.0,808.4 L1061.9,817.8 L1062.7,821.4 L1063.5,821.7 L1064.4,827.1 L1065.2,820.4 L1066.1,831.5 L1066.9,811.1 L1067.7,821.4 L1068.6,810.0 L1069.4,816.8 L1070.3,813.0 L1071.1,808.8 L1071.9,807.2 L1072.8,815.1 L1073.6,813.1 L1074.5,804.9 L1075.3,815.2 L1076.1,816.0 L1077.0,817.9 L1077.8,820.7 L1078.7,816.1 L1079.5,822.8 L1080.4,828.6 L1081.2,827.3 L1082.0,824.1 L1082.9,827.9 L1083.7,816.4 L1084.6,822.4 L1085.4,817.7 L1086.2,821.3 L1087.1,819.1 L1087.9,813.6 L1088.8,812.3 L1089.6,809.0 L1090.4,815.0 L1091.3,810.2 L1092.1,804.7 L1093.0,797.4 L1093.8,788.9 L1094.7,797.4 L1095.5,794.3 L1096.3,797.1 L1097.2,805.0 L1098.0,801.2 L1098.9,798.9 L1099.7,798.8 L1100.5,794.7 L1101.4,792.0 L1102.2,782.8 L1103.1,797.0 L1103.9,802.2 L1104.7,804.8 L1105.6,802.6 L1106.4,802.9 L1107.3,797.6 L1108.1,802.4 L1109.0,807.4 L1109.8,807.8 L1110.6,805.5 L1111.5,811.2 L1112.3,814.0 L1113.2,820.4 L1114.0,824.2 L1114.8,824.2 L1115.7,830.8 L1116.5,829.4 L1117.4,828.9 L1118.2,832.3 L1119.0,835.8 L1119.9,832.6 L1120.7,844.9 L1121.6,845.5 L1122.4,835.9 L1123.3,841.0 L1124.1,830.7 L1124.9,834.1 L1125.8,826.0 L1126.6,826.0 L1127.5,812.8 L1128.3,812.4 L1129.1,816.2 L1130.0,804.7 L1130.8,808.1 L1131.7,806.8 L1132.5,810.5 L1133.3,810.3 L1134.2,800.4 L1135.0,805.0 L1135.9,802.1 L1136.7,805.2 L1137.5,803.3 L1138.4,792.9 L1139.2,791.6 L1140.1,791.1 L1140.9,791.4 L1141.8,788.9 L1142.6,789.7 L1143.4,789.1 L1144.3,789.3 L1145.1,795.2 L1146.0,791.6 L1146.8,791.6 L1147.6,787.5 L1148.5,790.2 L1149.3,786.8 L1150.2,786.8 L1151.0,784.6 L1151.8,782.9 L1152.7,781.5 L1153.5,776.7 L1154.4,788.1 L1155.2,784.0 L1156.1,792.5 L1156.9,789.3 L1157.7,793.8 L1158.6,792.2 L1159.4,798.5 L1160.3,803.2 L1161.1,811.9 L1161.9,812.4 L1162.8,827.1 L1163.6,829.5 L1164.5,831.3 L1165.3,832.3 L1166.1,826.4 L1167.0,827.8 L1167.8,821.3 L1168.7,822.4 L1169.5,821.0 L1170.4,816.9 L1171.2,814.8 L1172.0,814.6 L1172.9,807.9 L1173.7,802.9 L1174.6,804.3 L1175.4,802.5 L1176.2,798.0 L1177.1,811.5 L1177.9,802.3 L1178.8,806.1 L1179.6,804.4 L1180.4,803.2 L1181.3,810.9 L1182.1,801.2 L1183.0,803.0 L1183.8,791.5 L1184.7,804.4 L1185.5,803.7 L1186.3,800.8 L1187.2,801.2 L1188.0,810.1 L1188.9,810.1 L1189.7,810.1 L1190.5,809.2 L1191.4,827.5 L1192.2,824.3 L1193.1,818.8 L1193.9,819.8 L1194.7,811.2 L1195.6,804.8 L1196.4,810.3 L1197.3,814.8 L1198.1,806.9 L1198.9,814.9 L1199.8,806.5 L1200.6,800.5 L1201.5,805.2 L1202.3,804.6 L1203.2,797.9 L1204.0,794.5 L1204.8,792.7 L1205.7,791.7 L1206.5,801.7 L1207.4,795.5 L1208.2,798.2 L1209.0,795.1 L1209.9,793.3 L1210.7,796.7 L1211.6,795.9 L1212.4,790.4 L1213.2,784.6 L1214.1,794.7 L1214.9,794.1 L1215.8,798.3 L1216.6,792.9 L1217.5,792.2 L1218.3,794.7 L1219.1,789.4 L1220.0,789.3 L1220.8,794.8 L1221.7,806.7 L1222.5,803.1 L1222.5,844.5 L13.0,844.5 Z" fill="#f23645" fill-opacity="0.18" clip-path="url(#cos)"/><polyline points="13.0,870.2 13.8,864.6 14.7,858.1 15.5,835.5 16.4,827.2 17.2,827.9 18.0,831.1 18.9,841.2 19.7,849.5 20.6,857.7 21.4,857.8 22.3,857.8 23.1,852.2 23.9,853.7 24.8,841.4 25.6,839.3 26.5,824.1 27.3,817.7 28.1,815.0 29.0,809.3 29.8,806.0 30.7,797.1 31.5,806.9 32.3,802.2 33.2,795.9 34.0,802.4 34.9,810.9 35.7,809.6 36.6,811.1 37.4,815.2 38.2,803.7 39.1,805.9 39.9,810.5 40.8,818.7 41.6,829.6 42.4,828.0 43.3,826.7 44.1,828.7 45.0,829.2 45.8,824.1 46.6,824.5 47.5,832.0 48.3,833.2 49.2,837.2 50.0,842.0 50.8,843.7 51.7,845.7 52.5,849.6 53.4,846.7 54.2,852.6 55.1,852.6 55.9,858.6 56.7,859.3 57.6,860.1 58.4,862.1 59.3,865.7 60.1,853.9 60.9,845.0 61.8,850.0 62.6,849.9 63.5,842.7 64.3,835.9 65.1,835.9 66.0,821.6 66.8,823.7 67.7,817.7 68.5,819.1 69.4,824.1 70.2,821.5 71.0,826.2 71.9,826.2 72.7,826.2 73.6,826.2 74.4,826.2 75.2,826.2 76.1,844.9 76.9,846.8 77.8,833.9 78.6,836.4 79.4,838.3 80.3,833.4 81.1,838.9 82.0,822.0 82.8,830.3 83.7,824.0 84.5,825.1 85.3,825.8 86.2,816.6 87.0,814.4 87.9,824.1 88.7,820.2 89.5,815.3 90.4,812.9 91.2,815.3 92.1,812.3 92.9,812.3 93.7,804.9 94.6,804.9 95.4,803.0 96.3,797.5 97.1,802.7 98.0,797.1 98.8,807.6 99.6,811.9 100.5,812.0 101.3,807.3 102.2,807.4 103.0,804.8 103.8,801.0 104.7,818.7 105.5,819.0 106.4,821.7 107.2,809.9 108.0,820.6 108.9,815.4 109.7,823.6 110.6,832.3 111.4,810.0 112.2,823.3 113.1,815.6 113.9,815.1 114.8,815.8 115.6,820.5 116.5,822.2 117.3,817.0 118.1,828.7 119.0,829.4 119.8,843.6 120.7,844.8 121.5,836.4 122.3,825.7 123.2,830.3 124.0,818.3 124.9,819.3 125.7,816.1 126.5,817.8 127.4,818.9 128.2,824.6 129.1,829.8 129.9,834.5 130.8,832.9 131.6,833.7 132.4,834.5 133.3,831.2 134.1,831.4 135.0,833.8 135.8,829.2 136.6,816.2 137.5,829.2 138.3,818.5 139.2,829.2 140.0,817.5 140.8,819.3 141.7,822.0 142.5,828.4 143.4,833.3 144.2,838.8 145.1,831.0 145.9,834.2 146.7,825.6 147.6,817.6 148.4,811.8 149.3,811.4 150.1,805.9 150.9,807.6 151.8,808.1 152.6,815.0 153.5,809.4 154.3,812.6 155.1,808.0 156.0,808.0 156.8,802.7 157.7,802.8 158.5,797.7 159.4,792.0 160.2,802.2 161.0,796.0 161.9,789.2 162.7,792.7 163.6,793.7 164.4,790.2 165.2,787.2 166.1,784.6 166.9,789.0 167.8,796.3 168.6,791.2 169.4,800.9 170.3,800.9 171.1,801.4 172.0,801.4 172.8,800.9 173.6,819.6 174.5,805.0 175.3,811.8 176.2,816.0 177.0,812.0 177.9,824.1 178.7,824.2 179.5,828.9 180.4,827.1 181.2,831.6 182.1,840.6 182.9,842.0 183.7,831.5 184.6,827.7 185.4,831.1 186.3,825.0 187.1,825.6 187.9,824.7 188.8,823.9 189.6,827.1 190.5,827.1 191.3,839.5 192.2,825.8 193.0,828.9 193.8,820.3 194.7,823.0 195.5,813.7 196.4,804.4 197.2,806.3 198.0,801.4 198.9,805.9 199.7,804.9 200.6,812.2 201.4,812.7 202.2,810.8 203.1,811.2 203.9,814.6 204.8,813.9 205.6,813.5 206.5,810.3 207.3,807.0 208.1,807.0 209.0,807.0 209.8,794.8 210.7,786.7 211.5,805.8 212.3,800.6 213.2,802.5 214.0,808.9 214.9,803.7 215.7,815.2 216.5,812.0 217.4,812.6 218.2,808.8 219.1,808.7 219.9,808.7 220.8,801.9 221.6,801.9 222.4,802.6 223.3,799.0 224.1,802.7 225.0,796.3 225.8,798.6 226.6,786.7 227.5,785.8 228.3,782.7 229.2,782.2 230.0,786.3 230.8,788.5 231.7,793.6 232.5,802.8 233.4,810.4 234.2,823.4 235.1,813.2 235.9,826.1 236.7,829.6 237.6,812.0 238.4,820.2 239.3,819.9 240.1,821.9 240.9,822.6 241.8,830.9 242.6,817.9 243.5,812.4 244.3,814.7 245.1,810.9 246.0,807.8 246.8,805.8 247.7,805.8 248.5,802.6 249.3,797.9 250.2,794.5 251.0,790.1 251.9,789.0 252.7,789.0 253.6,806.0 254.4,802.9 255.2,810.3 256.1,817.4 256.9,801.7 257.8,814.7 258.6,810.6 259.4,809.0 260.3,812.4 261.1,816.0 262.0,816.4 262.8,818.5 263.6,818.5 264.5,815.9 265.3,811.3 266.2,814.9 267.0,809.0 267.9,806.9 268.7,802.1 269.5,813.6 270.4,812.8 271.2,802.2 272.1,802.2 272.9,802.2 273.7,802.2 274.6,777.6 275.4,808.6 276.3,802.9 277.1,813.5 277.9,808.0 278.8,805.4 279.6,812.5 280.5,810.8 281.3,818.7 282.2,821.3 283.0,817.3 283.8,813.4 284.7,813.4 285.5,813.4 286.4,811.2 287.2,802.8 288.0,796.1 288.9,802.8 289.7,810.7 290.6,805.3 291.4,805.2 292.2,805.8 293.1,807.4 293.9,815.1 294.8,802.7 295.6,802.7 296.5,810.7 297.3,817.2 298.1,813.9 299.0,817.2 299.8,817.2 300.7,816.1 301.5,826.5 302.3,818.6 303.2,834.2 304.0,818.6 304.9,818.5 305.7,829.6 306.5,816.0 307.4,822.0 308.2,813.8 309.1,812.5 309.9,808.8 310.7,806.0 311.6,806.0 312.4,806.0 313.3,799.6 314.1,797.1 315.0,795.8 315.8,795.1 316.6,791.0 317.5,803.8 318.3,798.5 319.2,799.4 320.0,796.3 320.8,791.8 321.7,790.4 322.5,792.8 323.4,789.7 324.2,789.7 325.0,788.4 325.9,787.7 326.7,785.9 327.6,787.6 328.4,794.9 329.3,794.9 330.1,790.9 330.9,805.7 331.8,810.5 332.6,804.6 333.5,803.7 334.3,814.5 335.1,823.9 336.0,812.4 336.8,815.3 337.7,811.8 338.5,808.0 339.3,804.6 340.2,804.6 341.0,802.8 341.9,809.5 342.7,815.6 343.6,829.9 344.4,836.8 345.2,822.8 346.1,815.0 346.9,808.7 347.8,807.9 348.6,805.8 349.4,817.8 350.3,808.7 351.1,807.7 352.0,797.2 352.8,804.6 353.6,798.1 354.5,802.6 355.3,798.9 356.2,798.8 357.0,789.7 357.9,788.2 358.7,803.2 359.5,799.4 360.4,796.0 361.2,796.5 362.1,793.9 362.9,793.9 363.7,802.0 364.6,794.7 365.4,793.3 366.3,811.0 367.1,799.4 367.9,807.0 368.8,813.2 369.6,815.9 370.5,817.6 371.3,824.8 372.1,825.4 373.0,827.1 373.8,833.5 374.7,835.8 375.5,839.0 376.4,867.1 377.2,863.6 378.0,856.7 378.9,856.6 379.7,845.6 380.6,842.7 381.4,848.3 382.2,848.9 383.1,853.0 383.9,854.7 384.8,847.2 385.6,849.3 386.4,853.9 387.3,854.1 388.1,839.5 389.0,844.4 389.8,843.9 390.7,835.8 391.5,838.0 392.3,841.5 393.2,835.4 394.0,839.6 394.9,832.3 395.7,839.4 396.5,823.2 397.4,833.1 398.2,833.1 399.1,836.1 399.9,827.3 400.7,830.1 401.6,836.0 402.4,839.4 403.3,836.3 404.1,840.5 405.0,830.6 405.8,836.9 406.6,838.9 407.5,841.3 408.3,839.9 409.2,828.8 410.0,834.5 410.8,837.2 411.7,828.9 412.5,831.6 413.4,834.2 414.2,835.1 415.0,838.1 415.9,832.3 416.7,822.3 417.6,823.2 418.4,829.7 419.3,820.0 420.1,824.7 420.9,827.4 421.8,827.5 422.6,836.4 423.5,836.9 424.3,833.5 425.1,814.8 426.0,808.1 426.8,811.9 427.7,824.5 428.5,825.5 429.3,828.8 430.2,823.7 431.0,825.7 431.9,821.4 432.7,819.0 433.5,823.9 434.4,814.5 435.2,811.1 436.1,815.0 436.9,813.2 437.8,811.1 438.6,815.4 439.4,820.7 440.3,818.8 441.1,821.9 442.0,823.5 442.8,827.5 443.6,827.4 444.5,834.9 445.3,835.4 446.2,820.9 447.0,826.4 447.8,820.0 448.7,824.8 449.5,816.7 450.4,818.2 451.2,820.4 452.1,824.4 452.9,824.4 453.7,824.4 454.6,839.4 455.4,842.0 456.3,844.6 457.1,850.5 457.9,841.0 458.8,846.7 459.6,831.0 460.5,831.5 461.3,827.9 462.1,834.8 463.0,834.8 463.8,834.0 464.7,833.3 465.5,839.6 466.4,827.0 467.2,827.0 468.0,827.2 468.9,827.2 469.7,826.7 470.6,822.4 471.4,826.2 472.2,817.5 473.1,823.5 473.9,820.8 474.8,823.6 475.6,824.3 476.4,824.3 477.3,824.3 478.1,841.7 479.0,827.2 479.8,837.1 480.7,819.5 481.5,824.4 482.3,821.8 483.2,818.7 484.0,831.3 484.9,832.9 485.7,836.7 486.5,845.7 487.4,850.0 488.2,845.7 489.1,842.6 489.9,849.2 490.7,847.8 491.6,832.3 492.4,838.1 493.3,834.9 494.1,837.2 494.9,839.0 495.8,835.0 496.6,835.0 497.5,836.3 498.3,831.8 499.2,841.0 500.0,828.1 500.8,830.2 501.7,828.6 502.5,829.3 503.4,828.5 504.2,825.5 505.0,825.5 505.9,813.2 506.7,822.5 507.6,805.9 508.4,807.3 509.2,821.7 510.1,809.4 510.9,807.4 511.8,803.4 512.6,796.1 513.5,804.4 514.3,801.9 515.1,800.7 516.0,807.2 516.8,809.0 517.7,809.7 518.5,807.2 519.3,808.2 520.2,796.0 521.0,811.4 521.9,798.5 522.7,807.4 523.5,804.5 524.4,805.7 525.2,815.2 526.1,810.6 526.9,803.8 527.8,801.5 528.6,805.7 529.4,800.3 530.3,799.9 531.1,793.0 532.0,794.9 532.8,793.7 533.6,787.8 534.5,788.6 535.3,787.2 536.2,787.4 537.0,784.6 537.8,789.2 538.7,785.3 539.5,784.2 540.4,793.1 541.2,792.9 542.1,795.4 542.9,796.4 543.7,796.4 544.6,802.9 545.4,803.7 546.3,815.2 547.1,816.6 547.9,817.1 548.8,823.5 549.6,829.2 550.5,835.5 551.3,838.2 552.1,819.7 553.0,820.6 553.8,821.0 554.7,822.1 555.5,822.8 556.3,832.1 557.2,815.2 558.0,826.4 558.9,819.9 559.7,818.8 560.6,822.1 561.4,825.8 562.2,815.6 563.1,814.8 563.9,813.7 564.8,823.2 565.6,829.8 566.4,830.6 567.3,813.2 568.1,827.9 569.0,832.1 569.8,824.1 570.6,829.8 571.5,836.1 572.3,821.6 573.2,824.9 574.0,820.0 574.9,814.6 575.7,820.4 576.5,824.8 577.4,825.7 578.2,823.2 579.1,821.8 579.9,816.4 580.7,818.7 581.6,818.9 582.4,807.2 583.3,815.5 584.1,814.5 584.9,811.4 585.8,818.7 586.6,821.0 587.5,816.7 588.3,820.1 589.2,820.7 590.0,834.2 590.8,835.2 591.7,837.3 592.5,830.6 593.4,830.5 594.2,826.4 595.0,827.5 595.9,812.3 596.7,818.9 597.6,810.0 598.4,797.2 599.2,808.3 600.1,807.8 600.9,816.3 601.8,809.8 602.6,820.2 603.5,812.0 604.3,821.2 605.1,812.0 606.0,808.7 606.8,811.1 607.7,809.2 608.5,799.8 609.3,801.6 610.2,801.3 611.0,802.3 611.9,801.5 612.7,802.4 613.5,803.5 614.4,805.2 615.2,803.2 616.1,814.4 616.9,818.2 617.8,813.7 618.6,825.5 619.4,805.6 620.3,821.8 621.1,820.5 622.0,817.5 622.8,823.3 623.6,816.9 624.5,822.4 625.3,822.4 626.2,822.4 627.0,829.9 627.8,823.8 628.7,826.4 629.5,816.5 630.4,806.5 631.2,809.2 632.0,815.6 632.9,810.5 633.7,817.2 634.6,810.2 635.4,817.3 636.3,811.1 637.1,817.1 637.9,814.2 638.8,821.9 639.6,813.3 640.5,822.3 641.3,819.9 642.1,815.6 643.0,827.6 643.8,828.0 644.7,826.5 645.5,827.5 646.3,829.3 647.2,822.0 648.0,814.8 648.9,814.8 649.7,813.6 650.6,800.6 651.4,805.0 652.2,800.7 653.1,817.3 653.9,806.4 654.8,805.8 655.6,805.8 656.4,805.3 657.3,801.8 658.1,801.8 659.0,801.8 659.8,789.0 660.6,787.4 661.5,801.7 662.3,799.9 663.2,808.6 664.0,805.0 664.9,802.1 665.7,812.5 666.5,811.7 667.4,804.2 668.2,802.0 669.1,802.0 669.9,802.0 670.7,779.5 671.6,775.1 672.4,771.3 673.3,767.5 674.1,770.7 674.9,776.8 675.8,779.6 676.6,778.3 677.5,780.3 678.3,780.5 679.2,777.6 680.0,775.2 680.8,775.8 681.7,774.3 682.5,772.5 683.4,769.5 684.2,767.6 685.0,773.0 685.9,772.3 686.7,788.5 687.6,782.0 688.4,790.5 689.2,788.7 690.1,784.6 690.9,787.9 691.8,794.3 692.6,803.4 693.4,807.4 694.3,805.0 695.1,799.0 696.0,807.8 696.8,807.9 697.7,808.7 698.5,806.4 699.3,802.6 700.2,805.2 701.0,813.6 701.9,804.0 702.7,802.6 703.5,803.7 704.4,799.2 705.2,799.2 706.1,799.2 706.9,784.0 707.7,791.8 708.6,791.5 709.4,783.8 710.3,781.1 711.1,779.5 712.0,796.5 712.8,801.6 713.6,793.3 714.5,808.2 715.3,807.8 716.2,799.6 717.0,817.4 717.8,819.3 718.7,814.4 719.5,824.5 720.4,828.8 721.2,829.0 722.0,832.6 722.9,830.2 723.7,835.6 724.6,840.2 725.4,822.3 726.3,830.7 727.1,829.2 727.9,834.8 728.8,828.4 729.6,833.2 730.5,826.5 731.3,826.7 732.1,831.5 733.0,830.7 733.8,824.4 734.7,827.2 735.5,826.5 736.3,827.6 737.2,829.8 738.0,823.8 738.9,828.0 739.7,824.2 740.6,823.6 741.4,821.4 742.2,822.9 743.1,824.1 743.9,826.9 744.8,823.7 745.6,818.8 746.4,825.6 747.3,818.6 748.1,819.5 749.0,817.0 749.8,823.3 750.6,823.6 751.5,814.9 752.3,831.7 753.2,831.7 754.0,832.9 754.8,845.1 755.7,846.7 756.5,835.1 757.4,832.7 758.2,839.5 759.1,841.4 759.9,837.7 760.7,845.5 761.6,827.6 762.4,830.7 763.3,839.9 764.1,847.5 764.9,843.7 765.8,845.3 766.6,850.2 767.5,836.2 768.3,832.6 769.1,819.6 770.0,817.2 770.8,816.0 771.7,800.7 772.5,798.3 773.4,803.2 774.2,798.4 775.0,807.4 775.9,806.1 776.7,807.9 777.6,814.3 778.4,811.1 779.2,816.3 780.1,816.7 780.9,809.7 781.8,804.9 782.6,812.3 783.4,819.0 784.3,816.1 785.1,811.8 786.0,827.7 786.8,824.5 787.7,819.0 788.5,822.2 789.3,818.7 790.2,816.1 791.0,821.1 791.9,822.8 792.7,820.7 793.5,827.2 794.4,822.2 795.2,824.2 796.1,825.2 796.9,833.0 797.7,831.1 798.6,826.4 799.4,829.9 800.3,831.0 801.1,821.9 802.0,828.1 802.8,823.5 803.6,817.0 804.5,804.9 805.3,811.3 806.2,811.3 807.0,817.5 807.8,819.0 808.7,820.2 809.5,823.6 810.4,828.1 811.2,820.7 812.0,827.7 812.9,818.7 813.7,820.8 814.6,810.5 815.4,817.9 816.2,816.5 817.1,817.6 817.9,820.9 818.8,819.5 819.6,818.1 820.5,808.5 821.3,810.7 822.1,811.4 823.0,816.3 823.8,808.0 824.7,822.3 825.5,827.2 826.3,813.9 827.2,810.5 828.0,820.6 828.9,808.6 829.7,819.7 830.5,813.0 831.4,809.2 832.2,812.9 833.1,808.5 833.9,805.2 834.8,802.8 835.6,792.3 836.4,790.7 837.3,788.9 838.1,787.5 839.0,792.3 839.8,792.3 840.6,792.3 841.5,807.0 842.3,798.7 843.2,811.4 844.0,808.6 844.8,799.2 845.7,805.0 846.5,806.2 847.4,802.9 848.2,796.1 849.1,798.4 849.9,799.7 850.7,797.2 851.6,811.1 852.4,809.3 853.3,803.1 854.1,808.6 854.9,816.2 855.8,816.6 856.6,812.1 857.5,814.5 858.3,821.3 859.1,810.7 860.0,814.6 860.8,813.4 861.7,811.1 862.5,807.0 863.4,813.4 864.2,806.1 865.0,806.7 865.9,809.9 866.7,804.8 867.6,806.7 868.4,803.7 869.2,800.9 870.1,801.5 870.9,798.1 871.8,796.4 872.6,789.2 873.4,806.6 874.3,791.4 875.1,799.8 876.0,799.3 876.8,808.7 877.6,807.6 878.5,807.4 879.3,804.9 880.2,805.5 881.0,811.3 881.9,803.7 882.7,807.4 883.5,808.9 884.4,818.2 885.2,823.1 886.1,823.1 886.9,823.1 887.7,825.6 888.6,826.0 889.4,840.0 890.3,829.8 891.1,811.0 891.9,828.4 892.8,822.0 893.6,827.3 894.5,828.5 895.3,830.0 896.2,828.1 897.0,816.8 897.8,820.9 898.7,825.4 899.5,831.5 900.4,815.1 901.2,827.2 902.0,823.7 902.9,825.8 903.7,822.1 904.6,830.7 905.4,820.9 906.2,821.0 907.1,829.1 907.9,829.7 908.8,823.7 909.6,821.1 910.5,825.0 911.3,824.6 912.1,818.0 913.0,813.7 913.8,814.9 914.7,805.5 915.5,795.3 916.3,808.8 917.2,809.1 918.0,828.5 918.9,833.5 919.7,842.7 920.5,847.7 921.4,841.0 922.2,843.0 923.1,837.8 923.9,835.0 924.8,838.0 925.6,828.2 926.4,827.8 927.3,831.3 928.1,831.9 929.0,820.8 929.8,827.8 930.6,822.8 931.5,826.9 932.3,823.0 933.2,821.4 934.0,823.5 934.8,824.6 935.7,822.4 936.5,815.2 937.4,827.9 938.2,818.5 939.0,824.8 939.9,816.0 940.7,814.1 941.6,813.2 942.4,813.2 943.3,814.8 944.1,812.0 944.9,812.5 945.8,816.0 946.6,806.0 947.5,802.2 948.3,809.0 949.1,810.0 950.0,806.7 950.8,806.3 951.7,798.4 952.5,804.6 953.3,797.3 954.2,810.3 955.0,807.6 955.9,803.4 956.7,801.3 957.6,801.9 958.4,805.2 959.2,805.1 960.1,806.5 960.9,802.4 961.8,809.5 962.6,807.2 963.4,804.2 964.3,811.5 965.1,797.6 966.0,809.6 966.8,813.4 967.6,801.4 968.5,818.8 969.3,818.2 970.2,816.7 971.0,811.1 971.9,816.7 972.7,808.8 973.5,813.3 974.4,808.8 975.2,810.3 976.1,807.5 976.9,809.7 977.7,811.2 978.6,809.9 979.4,817.1 980.3,820.5 981.1,815.7 981.9,813.3 982.8,811.7 983.6,821.2 984.5,816.8 985.3,819.1 986.2,833.8 987.0,828.2 987.8,819.4 988.7,831.7 989.5,828.5 990.4,832.5 991.2,838.3 992.0,817.5 992.9,819.7 993.7,822.1 994.6,818.5 995.4,812.4 996.2,821.8 997.1,819.2 997.9,822.7 998.8,816.6 999.6,805.5 1000.4,801.7 1001.3,799.7 1002.1,798.3 1003.0,796.4 1003.8,782.9 1004.7,782.8 1005.5,778.4 1006.3,774.2 1007.2,773.9 1008.0,781.5 1008.9,777.2 1009.7,774.9 1010.5,777.2 1011.4,776.9 1012.2,772.4 1013.1,769.4 1013.9,788.4 1014.7,785.7 1015.6,791.7 1016.4,802.8 1017.3,799.1 1018.1,792.6 1019.0,791.0 1019.8,788.4 1020.6,786.4 1021.5,785.7 1022.3,782.2 1023.2,778.6 1024.0,787.7 1024.8,797.9 1025.7,787.4 1026.5,787.1 1027.4,783.4 1028.2,791.4 1029.0,790.6 1029.9,795.7 1030.7,792.1 1031.6,792.2 1032.4,807.7 1033.3,805.4 1034.1,804.1 1034.9,799.1 1035.8,802.0 1036.6,799.3 1037.5,795.6 1038.3,799.6 1039.1,797.8 1040.0,802.0 1040.8,802.8 1041.7,794.2 1042.5,807.9 1043.3,800.6 1044.2,800.6 1045.0,810.9 1045.9,803.9 1046.7,804.5 1047.6,809.7 1048.4,807.4 1049.2,810.7 1050.1,804.2 1050.9,809.7 1051.8,807.3 1052.6,813.8 1053.4,827.1 1054.3,824.9 1055.1,810.3 1056.0,800.3 1056.8,799.9 1057.6,801.1 1058.5,796.3 1059.3,799.5 1060.2,803.3 1061.0,808.4 1061.9,817.8 1062.7,821.4 1063.5,821.7 1064.4,827.1 1065.2,820.4 1066.1,831.5 1066.9,811.1 1067.7,821.4 1068.6,810.0 1069.4,816.8 1070.3,813.0 1071.1,808.8 1071.9,807.2 1072.8,815.1 1073.6,813.1 1074.5,804.9 1075.3,815.2 1076.1,816.0 1077.0,817.9 1077.8,820.7 1078.7,816.1 1079.5,822.8 1080.4,828.6 1081.2,827.3 1082.0,824.1 1082.9,827.9 1083.7,816.4 1084.6,822.4 1085.4,817.7 1086.2,821.3 1087.1,819.1 1087.9,813.6 1088.8,812.3 1089.6,809.0 1090.4,815.0 1091.3,810.2 1092.1,804.7 1093.0,797.4 1093.8,788.9 1094.7,797.4 1095.5,794.3 1096.3,797.1 1097.2,805.0 1098.0,801.2 1098.9,798.9 1099.7,798.8 1100.5,794.7 1101.4,792.0 1102.2,782.8 1103.1,797.0 1103.9,802.2 1104.7,804.8 1105.6,802.6 1106.4,802.9 1107.3,797.6 1108.1,802.4 1109.0,807.4 1109.8,807.8 1110.6,805.5 1111.5,811.2 1112.3,814.0 1113.2,820.4 1114.0,824.2 1114.8,824.2 1115.7,830.8 1116.5,829.4 1117.4,828.9 1118.2,832.3 1119.0,835.8 1119.9,832.6 1120.7,844.9 1121.6,845.5 1122.4,835.9 1123.3,841.0 1124.1,830.7 1124.9,834.1 1125.8,826.0 1126.6,826.0 1127.5,812.8 1128.3,812.4 1129.1,816.2 1130.0,804.7 1130.8,808.1 1131.7,806.8 1132.5,810.5 1133.3,810.3 1134.2,800.4 1135.0,805.0 1135.9,802.1 1136.7,805.2 1137.5,803.3 1138.4,792.9 1139.2,791.6 1140.1,791.1 1140.9,791.4 1141.8,788.9 1142.6,789.7 1143.4,789.1 1144.3,789.3 1145.1,795.2 1146.0,791.6 1146.8,791.6 1147.6,787.5 1148.5,790.2 1149.3,786.8 1150.2,786.8 1151.0,784.6 1151.8,782.9 1152.7,781.5 1153.5,776.7 1154.4,788.1 1155.2,784.0 1156.1,792.5 1156.9,789.3 1157.7,793.8 1158.6,792.2 1159.4,798.5 1160.3,803.2 1161.1,811.9 1161.9,812.4 1162.8,827.1 1163.6,829.5 1164.5,831.3 1165.3,832.3 1166.1,826.4 1167.0,827.8 1167.8,821.3 1168.7,822.4 1169.5,821.0 1170.4,816.9 1171.2,814.8 1172.0,814.6 1172.9,807.9 1173.7,802.9 1174.6,804.3 1175.4,802.5 1176.2,798.0 1177.1,811.5 1177.9,802.3 1178.8,806.1 1179.6,804.4 1180.4,803.2 1181.3,810.9 1182.1,801.2 1183.0,803.0 1183.8,791.5 1184.7,804.4 1185.5,803.7 1186.3,800.8 1187.2,801.2 1188.0,810.1 1188.9,810.1 1189.7,810.1 1190.5,809.2 1191.4,827.5 1192.2,824.3 1193.1,818.8 1193.9,819.8 1194.7,811.2 1195.6,804.8 1196.4,810.3 1197.3,814.8 1198.1,806.9 1198.9,814.9 1199.8,806.5 1200.6,800.5 1201.5,805.2 1202.3,804.6 1203.2,797.9 1204.0,794.5 1204.8,792.7 1205.7,791.7 1206.5,801.7 1207.4,795.5 1208.2,798.2 1209.0,795.1 1209.9,793.3 1210.7,796.7 1211.6,795.9 1212.4,790.4 1213.2,784.6 1214.1,794.7 1214.9,794.1 1215.8,798.3 1216.6,792.9 1217.5,792.2 1218.3,794.7 1219.1,789.4 1220.0,789.3 1220.8,794.8 1221.7,806.7 1222.5,803.1" fill="none" stroke="#7e57c2" stroke-width="1.5" stroke-linejoin="round"/><polyline points="13.0,857.0 13.8,859.2 14.7,860.7 15.5,860.0 16.4,858.4 17.2,856.6 18.0,854.8 18.9,853.6 19.7,852.6 20.6,852.1 21.4,851.3 22.3,850.9 23.1,850.0 23.9,848.9 24.8,846.8 25.6,845.0 26.5,842.6 27.3,841.3 28.1,840.5 29.0,839.1 29.8,837.3 30.7,834.2 31.5,831.1 32.3,827.2 33.2,822.8 34.0,818.8 34.9,815.8 35.7,812.7 36.6,810.5 37.4,808.8 38.2,807.4 39.1,806.5 39.9,806.2 40.8,806.9 41.6,808.5 42.4,810.8 43.3,812.2 44.1,814.1 45.0,816.4 45.8,818.0 46.6,819.0 47.5,820.6 48.3,822.1 49.2,823.7 50.0,826.4 50.8,829.1 51.7,831.6 52.5,833.9 53.4,835.1 54.2,836.8 55.1,838.7 55.9,840.8 56.7,843.0 57.6,845.5 58.4,848.2 59.3,850.6 60.1,852.1 60.9,852.7 61.8,853.3 62.6,853.7 63.5,853.5 64.3,852.5 65.1,851.7 66.0,849.5 66.8,847.5 67.7,844.5 68.5,841.7 69.4,839.1 70.2,836.2 71.0,833.4 71.9,831.4 72.7,830.1 73.6,828.4 74.4,826.7 75.2,825.5 76.1,826.1 76.9,826.9 77.8,827.8 78.6,828.7 79.4,830.2 80.3,831.2 81.1,832.3 82.0,832.3 82.8,832.6 83.7,832.4 84.5,832.3 85.3,832.3 86.2,831.6 87.0,830.8 87.9,829.3 88.7,827.4 89.5,826.1 90.4,824.4 91.2,822.7 92.1,821.2 92.9,819.3 93.7,818.1 94.6,816.3 95.4,814.8 96.3,812.8 97.1,811.2 98.0,809.8 98.8,809.3 99.6,808.4 100.5,807.8 101.3,807.3 102.2,806.9 103.0,806.1 103.8,805.3 104.7,805.8 105.5,806.8 106.4,808.0 107.2,808.5 108.0,810.1 108.9,811.0 109.7,812.9 110.6,814.7 111.4,814.5 112.2,815.4 113.1,815.9 113.9,816.5 114.8,817.3 115.6,818.7 116.5,818.9 117.3,818.8 118.1,819.3 119.0,820.7 119.8,822.3 120.7,824.4 121.5,825.3 122.3,824.9 123.2,826.3 124.0,826.0 124.9,826.2 125.7,826.3 126.5,826.4 127.4,826.3 128.2,826.5 129.1,827.4 129.9,827.8 130.8,828.1 131.6,827.4 132.4,826.6 133.3,826.3 134.1,826.7 135.0,826.9 135.8,827.7 136.6,827.5 137.5,828.4 138.3,828.5 139.2,829.2 140.0,828.7 140.8,827.9 141.7,827.1 142.5,826.7 143.4,826.7 144.2,827.0 145.1,827.0 145.9,827.2 146.7,826.6 147.6,825.8 148.4,825.5 149.3,824.2 150.1,823.3 150.9,821.8 151.8,821.1 152.6,820.8 153.5,819.9 154.3,818.7 155.1,816.9 156.0,814.7 156.8,812.7 157.7,810.5 158.5,808.5 159.4,806.6 160.2,806.0 161.0,804.9 161.9,803.7 162.7,802.6 163.6,801.6 164.4,799.8 165.2,798.2 166.1,796.2 166.9,794.9 167.8,794.0 168.6,793.2 169.4,793.1 170.3,793.3 171.1,794.0 172.0,793.9 172.8,794.2 173.6,796.4 174.5,797.3 175.3,798.6 176.2,800.4 177.0,802.2 177.9,805.0 178.7,807.5 179.5,809.9 180.4,812.4 181.2,814.6 182.1,817.5 182.9,820.4 183.7,822.5 184.6,824.4 185.4,825.3 186.3,826.7 187.1,827.7 187.9,828.3 188.8,829.1 189.6,829.4 190.5,829.6 191.3,830.3 192.2,830.2 193.0,830.0 193.8,828.6 194.7,827.2 195.5,826.0 196.4,824.3 197.2,822.5 198.0,820.8 198.9,819.4 199.7,818.0 200.6,817.2 201.4,816.2 202.2,815.0 203.1,813.0 203.9,812.2 204.8,811.1 205.6,810.6 206.5,809.7 207.3,809.2 208.1,809.4 209.0,809.5 209.8,809.0 210.7,807.6 211.5,807.7 212.3,806.8 213.2,806.1 214.0,806.0 214.9,805.4 215.7,805.5 216.5,805.4 217.4,805.3 218.2,805.2 219.1,805.3 219.9,805.4 220.8,805.1 221.6,805.6 222.4,806.7 223.3,806.2 224.1,806.4 225.0,805.9 225.8,805.2 226.6,804.0 227.5,801.9 228.3,799.8 229.2,797.6 230.0,796.0 230.8,794.6 231.7,793.5 232.5,793.5 233.4,794.1 234.2,795.6 235.1,796.6 235.9,798.3 236.7,800.7 237.6,801.7 238.4,804.0 239.3,806.5 240.1,809.3 240.9,812.2 241.8,815.4 242.6,817.5 243.5,818.8 244.3,819.7 245.1,819.7 246.0,818.6 246.8,818.1 247.7,816.6 248.5,814.7 249.3,813.7 250.2,811.8 251.0,809.7 251.9,807.3 252.7,804.9 253.6,803.2 254.4,802.1 255.2,801.9 256.1,802.1 256.9,801.5 257.8,802.0 258.6,802.3 259.4,802.5 260.3,803.2 261.1,804.5 262.0,806.1 262.8,808.1 263.6,810.2 264.5,812.2 265.3,812.5 266.2,813.4 267.0,813.3 267.9,812.6 268.7,812.6 269.5,812.5 270.4,812.7 271.2,812.2 272.1,811.4 272.9,810.4 273.7,809.4 274.6,806.5 275.4,805.8 276.3,804.9 277.1,805.0 277.9,804.5 278.8,804.3 279.6,804.7 280.5,805.3 281.3,805.7 282.2,806.3 283.0,807.4 283.8,808.2 284.7,809.0 285.5,809.8 286.4,812.2 287.2,811.7 288.0,811.3 288.9,810.5 289.7,810.7 290.6,810.7 291.4,810.2 292.2,809.8 293.1,809.0 293.9,808.6 294.8,807.5 295.6,806.8 296.5,806.6 297.3,806.8 298.1,807.0 299.0,808.1 299.8,809.6 300.7,810.5 301.5,811.7 302.3,812.6 303.2,814.7 304.0,815.6 304.9,816.4 305.7,817.4 306.5,818.4 307.4,819.7 308.2,820.0 309.1,819.6 309.9,819.3 310.7,818.5 311.6,817.7 312.4,816.9 313.3,815.0 314.1,813.5 315.0,810.7 315.8,809.1 316.6,807.1 317.5,805.2 318.3,804.0 319.2,802.4 320.0,801.1 320.8,799.7 321.7,798.3 322.5,797.4 323.4,796.2 324.2,795.1 325.0,794.3 325.9,793.6 326.7,792.9 327.6,792.4 328.4,792.6 329.3,792.0 330.1,791.5 330.9,791.9 331.8,792.9 332.6,793.8 333.5,794.8 334.3,796.3 335.1,798.8 336.0,800.4 336.8,802.3 337.7,804.0 338.5,805.6 339.3,806.8 340.2,807.5 341.0,808.1 341.9,809.4 342.7,810.1 343.6,811.5 344.4,813.8 345.2,815.2 346.1,815.2 346.9,814.1 347.8,813.8 348.6,813.1 349.4,813.6 350.3,813.6 351.1,813.8 352.0,813.3 352.8,813.4 353.6,812.6 354.5,811.7 355.3,809.5 356.2,806.8 357.0,804.4 357.9,802.5 358.7,802.1 359.5,801.5 360.4,800.8 361.2,799.3 362.1,798.2 362.9,797.2 363.7,797.6 364.6,796.9 365.4,796.5 366.3,797.1 367.1,797.2 367.9,797.7 368.8,799.4 369.6,801.4 370.5,802.4 371.3,804.2 372.1,806.3 373.0,808.5 373.8,811.4 374.7,814.3 375.5,817.0 376.4,822.2 377.2,827.2 378.0,830.4 378.9,834.5 379.7,837.3 380.6,839.4 381.4,841.7 382.2,843.9 383.1,846.0 383.9,848.0 384.8,849.5 385.6,850.6 386.4,851.9 387.3,853.0 388.1,851.0 389.0,849.6 389.8,848.7 390.7,847.2 391.5,846.7 392.3,846.6 393.2,845.7 394.0,845.0 394.9,843.5 395.7,842.4 396.5,840.7 397.4,839.6 398.2,838.1 399.1,836.8 399.9,835.9 400.7,834.9 401.6,834.3 402.4,834.6 403.3,834.5 404.1,834.4 405.0,834.1 405.8,833.9 406.6,834.3 407.5,834.5 408.3,835.7 409.2,835.4 410.0,835.5 410.8,835.5 411.7,835.7 412.5,835.8 413.4,835.6 414.2,835.3 415.0,835.5 415.9,834.9 416.7,834.3 417.6,833.3 418.4,832.7 419.3,831.1 420.1,830.0 420.9,829.9 421.8,829.4 422.6,829.4 423.5,829.9 424.3,830.1 425.1,828.7 426.0,826.8 426.8,824.9 427.7,824.3 428.5,824.6 429.3,825.0 430.2,824.5 431.0,824.9 431.9,824.7 432.7,824.1 433.5,823.9 434.4,822.3 435.2,820.5 436.1,819.1 436.9,819.0 437.8,819.2 438.6,819.5 439.4,819.2 440.3,818.7 441.1,818.2 442.0,818.2 442.8,818.4 443.6,818.8 444.5,819.9 445.3,820.8 446.2,821.2 447.0,822.3 447.8,822.7 448.7,823.5 449.5,823.9 450.4,824.1 451.2,824.1 452.1,824.5 452.9,824.7 453.7,824.7 454.6,825.6 455.4,826.6 456.3,827.3 457.1,828.4 457.9,829.8 458.8,831.3 459.6,832.0 460.5,832.5 461.3,833.3 462.1,834.5 463.0,835.5 463.8,836.2 464.7,836.8 465.5,837.9 466.4,837.0 467.2,836.0 468.0,834.7 468.9,833.1 469.7,832.0 470.6,830.3 471.4,830.0 472.2,829.0 473.1,828.7 473.9,827.7 474.8,826.9 475.6,826.2 476.4,825.5 477.3,824.4 478.1,825.5 479.0,825.5 479.8,826.2 480.7,825.7 481.5,825.5 482.3,825.4 483.2,824.9 484.0,825.9 484.9,826.6 485.7,827.7 486.5,829.3 487.4,831.1 488.2,832.6 489.1,833.9 489.9,834.5 490.7,835.9 491.6,835.6 492.4,836.9 493.3,837.7 494.1,838.8 494.9,840.2 495.8,840.5 496.6,840.7 497.5,840.6 498.3,839.6 499.2,839.0 500.0,837.7 500.8,836.9 501.7,835.4 502.5,834.1 503.4,833.8 504.2,832.9 505.0,832.2 505.9,830.5 506.7,829.3 507.6,827.2 508.4,825.3 509.2,824.2 510.1,822.6 510.9,820.2 511.8,818.5 512.6,816.0 513.5,814.3 514.3,812.3 515.1,810.4 516.0,809.0 516.8,807.9 517.7,807.6 518.5,806.5 519.3,806.7 520.2,805.9 521.0,805.1 521.9,804.4 522.7,804.4 523.5,804.5 524.4,805.1 525.2,805.9 526.1,806.5 526.9,806.8 527.8,806.4 528.6,806.1 529.4,805.4 530.3,804.9 531.1,803.8 532.0,803.8 532.8,802.5 533.6,801.7 534.5,800.4 535.3,799.1 536.2,797.8 537.0,795.6 537.8,794.1 538.7,792.8 539.5,791.5 540.4,790.7 541.2,790.1 542.1,789.8 542.9,790.0 543.7,790.2 544.6,790.8 545.4,791.9 546.3,793.8 547.1,795.9 547.9,798.1 548.8,800.8 549.6,803.7 550.5,807.3 551.3,811.1 552.1,813.0 553.0,815.0 553.8,816.9 554.7,818.7 555.5,820.6 556.3,822.7 557.2,823.5 558.0,824.3 558.9,824.5 559.7,824.6 560.6,824.5 561.4,824.3 562.2,822.9 563.1,821.2 563.9,820.8 564.8,821.0 565.6,821.6 566.4,822.2 567.3,821.5 568.1,821.2 569.0,822.4 569.8,822.2 570.6,822.9 571.5,824.2 572.3,824.2 573.2,824.1 574.0,824.4 574.9,824.4 575.7,824.9 576.5,825.0 577.4,824.7 578.2,824.2 579.1,824.8 579.9,824.0 580.7,823.0 581.6,822.6 582.4,821.0 583.3,819.5 584.1,819.0 584.9,818.1 585.8,818.0 586.6,818.4 587.5,818.2 588.3,817.8 589.2,817.5 590.0,818.3 590.8,819.2 591.7,820.7 592.5,821.6 593.4,822.4 594.2,823.8 595.0,824.6 595.9,824.5 596.7,825.0 597.6,824.4 598.4,822.7 599.2,822.1 600.1,821.2 600.9,820.9 601.8,819.1 602.6,818.1 603.5,816.3 604.3,815.6 605.1,814.3 606.0,813.0 606.8,811.8 607.7,811.6 608.5,810.3 609.3,809.7 610.2,809.9 611.0,809.5 611.9,809.1 612.7,808.1 613.5,807.6 614.4,806.6 615.2,805.9 616.1,805.4 616.9,805.9 617.8,806.2 618.6,807.3 619.4,807.0 620.3,808.6 621.1,809.9 622.0,811.1 622.8,812.6 623.6,813.7 624.5,815.1 625.3,816.5 626.2,817.7 627.0,819.6 627.8,820.3 628.7,820.9 629.5,821.1 630.4,819.7 631.2,820.0 632.0,819.5 632.9,818.8 633.7,818.8 634.6,817.9 635.4,817.9 636.3,817.1 637.1,816.7 637.9,816.1 638.8,815.5 639.6,814.8 640.5,814.5 641.3,814.7 642.1,815.4 643.0,816.7 643.8,817.6 644.7,818.7 645.5,819.5 646.3,820.8 647.2,821.2 648.0,821.4 648.9,821.3 649.7,821.2 650.6,819.7 651.4,819.1 652.2,817.6 653.1,817.4 653.9,816.7 654.8,815.2 655.6,813.6 656.4,812.1 657.3,810.2 658.1,808.3 659.0,806.8 659.8,805.0 660.6,803.0 661.5,802.2 662.3,802.1 663.2,802.4 664.0,802.7 664.9,801.6 665.7,802.0 666.5,802.5 667.4,802.4 668.2,802.1 669.1,802.1 669.9,802.1 670.7,800.5 671.6,799.5 672.4,798.4 673.3,796.0 674.1,793.9 674.9,791.6 675.8,789.8 676.6,788.1 677.5,785.8 678.3,783.6 679.2,781.7 680.0,779.7 680.8,777.9 681.7,775.9 682.5,775.4 683.4,775.0 684.2,774.7 685.0,775.1 685.9,775.2 686.7,776.1 687.6,776.2 688.4,777.1 689.2,777.7 690.1,778.0 690.9,778.7 691.8,780.1 692.6,782.1 693.4,784.4 694.3,786.8 695.1,788.9 696.0,791.7 696.8,794.2 697.7,796.8 698.5,798.1 699.3,799.6 700.2,800.6 701.0,802.4 701.9,803.8 702.7,804.9 703.5,805.5 704.4,805.2 705.2,804.6 706.1,804.2 706.9,803.2 707.7,802.0 708.6,800.8 709.4,799.1 710.3,797.3 711.1,795.6 712.0,795.0 712.8,794.1 713.6,793.4 714.5,793.8 715.3,794.1 716.2,794.1 717.0,795.4 717.8,796.8 718.7,799.0 719.5,801.3 720.4,804.0 721.2,807.2 722.0,810.9 722.9,814.5 723.7,817.3 724.6,820.1 725.4,822.1 726.3,823.7 727.1,825.3 727.9,827.8 728.8,828.6 729.6,829.5 730.5,830.4 731.3,830.6 732.1,830.8 733.0,830.9 733.8,830.3 734.7,830.1 735.5,829.4 736.3,828.5 737.2,829.1 738.0,828.6 738.9,828.5 739.7,827.7 740.6,827.4 741.4,826.6 742.2,826.3 743.1,826.1 743.9,825.8 744.8,825.3 745.6,824.9 746.4,824.8 747.3,824.2 748.1,823.6 749.0,822.7 749.8,822.7 750.6,822.4 751.5,821.7 752.3,822.3 753.2,823.0 754.0,823.8 754.8,825.3 755.7,826.7 756.5,827.5 757.4,828.5 758.2,829.5 759.1,831.1 759.9,832.4 760.7,834.4 761.6,834.7 762.4,835.2 763.3,837.0 764.1,838.1 764.9,839.0 765.8,839.9 766.6,840.2 767.5,839.5 768.3,839.3 769.1,838.4 770.0,836.8 770.8,835.0 771.7,832.3 772.5,829.0 773.4,827.2 774.2,824.9 775.0,822.6 775.9,819.6 776.7,817.1 777.6,814.9 778.4,812.1 779.2,810.7 780.1,809.5 780.9,808.8 781.8,807.9 782.6,807.7 783.4,809.0 784.3,810.2 785.1,810.9 786.0,812.9 786.8,814.2 787.7,815.1 788.5,816.1 789.3,816.4 790.2,816.8 791.0,817.1 791.9,817.6 792.7,818.3 793.5,819.9 794.4,820.6 795.2,821.0 796.1,821.7 796.9,823.2 797.7,823.4 798.6,823.6 799.4,824.3 800.3,825.0 801.1,825.2 802.0,826.1 802.8,826.2 803.6,825.8 804.5,824.7 805.3,823.5 806.2,822.8 807.0,822.3 807.8,821.9 808.7,820.9 809.5,820.4 810.4,820.5 811.2,819.9 812.0,819.6 812.9,819.4 813.7,818.9 814.6,818.0 815.4,818.0 816.2,818.9 817.1,819.3 817.9,820.0 818.8,820.1 819.6,820.1 820.5,819.2 821.3,818.3 822.1,817.1 823.0,816.8 823.8,815.4 824.7,815.6 825.5,816.1 826.3,816.3 827.2,815.8 828.0,816.1 828.9,815.5 829.7,815.4 830.5,814.9 831.4,814.3 832.2,814.6 833.1,814.4 833.9,814.0 834.8,813.0 835.6,811.9 836.4,809.6 837.3,806.9 838.1,805.0 839.0,803.7 839.8,801.7 840.6,800.5 841.5,799.6 842.3,798.6 843.2,798.8 844.0,798.5 844.8,797.8 845.7,797.8 846.5,798.0 847.4,798.8 848.2,799.2 849.1,799.8 849.9,800.7 850.7,801.1 851.6,802.4 852.4,803.6 853.3,803.4 854.1,804.1 854.9,804.4 855.8,805.0 856.6,805.9 857.5,806.6 858.3,807.7 859.1,808.2 860.0,809.5 860.8,810.6 861.7,811.4 862.5,812.1 863.4,812.3 864.2,812.0 865.0,812.3 865.9,812.4 866.7,811.6 867.6,810.9 868.4,810.3 869.2,809.3 870.1,807.9 870.9,807.0 871.8,805.7 872.6,804.0 873.4,803.6 874.3,802.5 875.1,801.6 876.0,801.1 876.8,801.2 877.6,801.1 878.5,801.2 879.3,801.1 880.2,801.2 881.0,802.0 881.9,802.1 882.7,802.8 883.5,803.7 884.4,805.8 885.2,807.0 886.1,809.2 886.9,810.9 887.7,812.8 888.6,814.0 889.4,816.3 890.3,817.9 891.1,818.3 891.9,820.0 892.8,820.7 893.6,822.4 894.5,823.9 895.3,825.4 896.2,826.2 897.0,825.7 897.8,825.5 898.7,825.7 899.5,826.1 900.4,825.3 901.2,824.4 902.0,824.0 902.9,825.0 903.7,824.6 904.6,825.2 905.4,824.8 906.2,824.2 907.1,824.2 907.9,824.3 908.8,824.8 909.6,824.8 910.5,824.8 911.3,824.3 912.1,824.5 913.0,823.5 913.8,822.9 914.7,821.4 915.5,819.5 916.3,818.0 917.2,817.1 918.0,817.7 918.9,818.0 919.7,818.9 920.5,820.6 921.4,822.0 922.2,823.3 923.1,824.3 923.9,825.5 924.8,827.2 925.6,828.2 926.4,829.7 927.3,832.3 928.1,834.0 929.0,834.8 929.8,834.7 930.6,834.0 931.5,832.9 932.3,831.1 933.2,829.7 934.0,828.3 934.8,827.3 935.7,826.4 936.5,824.8 937.4,824.8 938.2,824.1 939.0,823.7 939.9,822.5 940.7,822.1 941.6,821.0 942.4,820.3 943.3,819.5 944.1,818.7 944.9,818.0 945.8,817.5 946.6,816.2 947.5,814.7 948.3,814.3 949.1,813.0 950.0,812.2 950.8,810.9 951.7,809.6 952.5,808.9 953.3,807.8 954.2,807.6 955.0,807.1 955.9,806.5 956.7,805.7 957.6,804.6 958.4,804.6 959.2,804.8 960.1,804.6 960.9,804.1 961.8,804.3 962.6,804.3 963.4,804.7 964.3,805.2 965.1,805.3 966.0,805.2 966.8,805.6 967.6,805.5 968.5,806.7 969.3,807.9 970.2,808.7 971.0,809.2 971.9,809.9 972.7,810.3 973.5,810.6 974.4,810.7 975.2,811.2 976.1,810.9 976.9,811.7 977.7,811.8 978.6,811.6 979.4,812.7 980.3,812.8 981.1,812.7 981.9,812.4 982.8,812.5 983.6,812.8 984.5,813.4 985.3,813.8 986.2,815.6 987.0,816.8 987.8,817.7 988.7,819.2 989.5,820.5 990.4,822.1 991.2,823.6 992.0,823.4 992.9,823.7 993.7,824.3 994.6,824.8 995.4,824.2 996.2,824.5 997.1,824.5 997.9,823.8 998.8,822.9 999.6,821.9 1000.4,819.8 1001.3,817.7 1002.1,815.3 1003.0,812.3 1003.8,809.8 1004.7,807.2 1005.5,804.1 1006.3,800.9 1007.2,798.2 1008.0,795.3 1008.9,792.3 1009.7,788.9 1010.5,786.1 1011.4,784.0 1012.2,781.9 1013.1,779.8 1013.9,779.0 1014.7,778.3 1015.6,778.9 1016.4,780.3 1017.3,781.8 1018.1,783.1 1019.0,784.3 1019.8,784.8 1020.6,785.5 1021.5,786.3 1022.3,786.6 1023.2,786.7 1024.0,787.8 1024.8,789.9 1025.7,789.8 1026.5,789.9 1027.4,789.3 1028.2,788.5 1029.0,787.9 1029.9,788.1 1030.7,788.2 1031.6,788.5 1032.4,790.0 1033.3,791.4 1034.1,793.0 1034.9,794.4 1035.8,795.4 1036.6,795.5 1037.5,796.1 1038.3,797.0 1039.1,798.0 1040.0,798.8 1040.8,799.7 1041.7,799.6 1042.5,800.7 1043.3,801.3 1044.2,800.8 1045.0,801.2 1045.9,801.2 1046.7,801.5 1047.6,802.1 1048.4,802.7 1049.2,803.8 1050.1,804.1 1050.9,804.9 1051.8,805.3 1052.6,806.1 1053.4,808.4 1054.3,809.7 1055.1,810.3 1056.0,810.3 1056.8,809.5 1057.6,809.3 1058.5,808.8 1059.3,808.0 1060.2,807.7 1061.0,807.6 1061.9,808.5 1062.7,809.4 1063.5,810.4 1064.4,811.4 1065.2,810.9 1066.1,811.4 1066.9,811.4 1067.7,812.9 1068.6,813.6 1069.4,814.8 1070.3,816.0 1071.1,816.6 1071.9,816.9 1072.8,817.4 1073.6,817.0 1074.5,815.8 1075.3,815.4 1076.1,814.6 1077.0,814.4 1077.8,813.6 1078.7,814.0 1079.5,814.1 1080.4,815.4 1081.2,816.2 1082.0,817.0 1082.9,818.3 1083.7,819.0 1084.6,819.5 1085.4,819.9 1086.2,821.0 1087.1,821.3 1087.9,821.1 1088.8,820.7 1089.6,819.9 1090.4,819.8 1091.3,818.9 1092.1,817.2 1093.0,815.1 1093.8,812.6 1094.7,810.4 1095.5,808.8 1096.3,807.0 1097.2,806.1 1098.0,804.7 1098.9,803.2 1099.7,802.2 1100.5,800.9 1101.4,799.7 1102.2,797.4 1103.1,796.4 1103.9,796.3 1104.7,796.8 1105.6,797.8 1106.4,798.2 1107.3,798.4 1108.1,798.8 1109.0,798.9 1109.8,799.4 1110.6,799.9 1111.5,800.8 1112.3,802.2 1113.2,804.2 1114.0,807.1 1114.8,809.1 1115.7,811.1 1116.5,812.9 1117.4,814.8 1118.2,816.9 1119.0,819.6 1119.9,821.8 1120.7,824.5 1121.6,827.1 1122.4,829.3 1123.3,831.4 1124.1,832.6 1124.9,833.6 1125.8,833.7 1126.6,833.9 1127.5,832.6 1128.3,831.4 1129.1,830.5 1130.0,828.5 1130.8,826.5 1131.7,824.7 1132.5,822.2 1133.3,819.7 1134.2,817.2 1135.0,814.6 1135.9,812.5 1136.7,810.5 1137.5,808.9 1138.4,806.5 1139.2,805.0 1140.1,803.5 1140.9,801.7 1141.8,800.5 1142.6,799.2 1143.4,798.0 1144.3,796.5 1145.1,795.4 1146.0,794.7 1146.8,793.8 1147.6,792.7 1148.5,791.7 1149.3,790.5 1150.2,790.1 1151.0,789.6 1151.8,789.0 1152.7,788.3 1153.5,787.4 1154.4,787.3 1155.2,786.9 1156.1,787.1 1156.9,786.7 1157.7,786.9 1158.6,786.9 1159.4,787.7 1160.3,788.7 1161.1,790.4 1161.9,792.3 1162.8,795.3 1163.6,798.6 1164.5,802.2 1165.3,806.2 1166.1,808.9 1167.0,812.0 1167.8,814.1 1168.7,816.5 1169.5,818.4 1170.4,820.2 1171.2,821.3 1172.0,822.1 1172.9,821.8 1173.7,821.2 1174.6,819.5 1175.4,817.6 1176.2,815.2 1177.1,813.7 1177.9,812.0 1178.8,810.5 1179.6,809.3 1180.4,807.9 1181.3,807.2 1182.1,806.0 1183.0,805.2 1183.8,803.5 1184.7,803.3 1185.5,803.3 1186.3,803.1 1187.2,803.0 1188.0,803.9 1188.9,803.8 1189.7,804.3 1190.5,804.5 1191.4,806.2 1192.2,807.7 1193.1,808.3 1193.9,809.6 1194.7,810.2 1195.6,811.1 1196.4,811.6 1197.3,812.4 1198.1,812.9 1198.9,813.9 1199.8,813.7 1200.6,813.1 1201.5,812.8 1202.3,812.6 1203.2,810.5 1204.0,808.5 1204.8,806.7 1205.7,804.8 1206.5,804.3 1207.4,803.7 1208.2,803.0 1209.0,801.7 1209.9,800.8 1210.7,799.6 1211.6,799.0 1212.4,798.4 1213.2,797.1 1214.1,796.5 1214.9,796.3 1215.8,796.7 1216.6,796.9 1217.5,797.0 1218.3,796.7 1219.1,796.4 1220.0,795.8 1220.8,795.9 1221.7,797.0 1222.5,797.6" fill="none" stroke="#f9cb28" stroke-width="1.25" stroke-linejoin="round"/>
<text x="23" y="775.2" font-size="15" fill="#131722" stroke="#131722" textLength="94.6" lengthAdjust="spacingAndGlyphs">RSI (14, close)</text>
<text x="127" y="775.2" font-size="15" fill="#7e57c2" stroke="#7e57c2" textLength="37.5" lengthAdjust="spacingAndGlyphs">58.04</text>
<text x="173" y="775.2" font-size="15" fill="#f9c623" stroke="#f9c623" textLength="37.5" lengthAdjust="spacingAndGlyphs">61.79</text>
<path d="M1232 771.2 H1283 a2 2 0 0 1 2 2 V789.8 a2 2 0 0 1 -2 2 H1232 Z" fill="#fdd835"/>
<text x="1280" y="787.2" font-size="15.2" fill="#131722" stroke="#131722" text-anchor="end" textLength="37.8" lengthAdjust="spacingAndGlyphs">61.79</text>
<path d="M1232 793.6 H1283 a2 2 0 0 1 2 2 V811.7 a2 2 0 0 1 -2 2 H1232 Z" fill="#7e57c2"/>
<text x="1280" y="809.4" font-size="15.2" fill="#fff" stroke="#fff" text-anchor="end" textLength="37.8" lengthAdjust="spacingAndGlyphs">58.04</text>
<text x="1279.3" y="858.6" font-size="15.2" fill="#131722" stroke="#131722" text-anchor="end" textLength="37.8" lengthAdjust="spacingAndGlyphs">25.00</text>
<svg x="13" y="884" width="1218" height="35" overflow="hidden">
<text x="0" y="24.4" font-size="15.2" fill="#131722" stroke="#131722" text-anchor="middle">26</text>
<text x="172" y="24.4" font-size="15.2" fill="#131722" stroke="#131722" text-anchor="middle">27</text>
<text x="415" y="24.4" font-size="15.2" fill="#131722" stroke="#131722" text-anchor="middle">28</text>
<text x="657" y="24.4" font-size="15.2" fill="#131722" stroke="#131722" text-anchor="middle">29</text>
<text x="899" y="24.4" font-size="15.2" fill="#131722" stroke="#131722" text-anchor="middle">30</text>
<text x="1139.5" y="24.4" font-size="15.2" fill="#131722" stroke="#131722" text-anchor="middle">31</text>
<text x="1198.6" y="24.4" font-size="15.2" fill="#131722" stroke="#131722" font-weight="bold">2月</text>
</svg>
<g fill="#111"><path d="M15.6 947.4 H30.7 V966 H22.7 V954.4 H15.6 Z"/><circle cx="36.2" cy="950.3" r="2.9"/><path d="M41 947.4 H52.6 L45.8 966 H37 Z"/></g>
<text x="62.5" y="966" font-size="25" font-weight="bold" fill="#111" stroke="#111" textLength="150.7" lengthAdjust="spacingAndGlyphs">TradingView</text>
</svg></body></html>
